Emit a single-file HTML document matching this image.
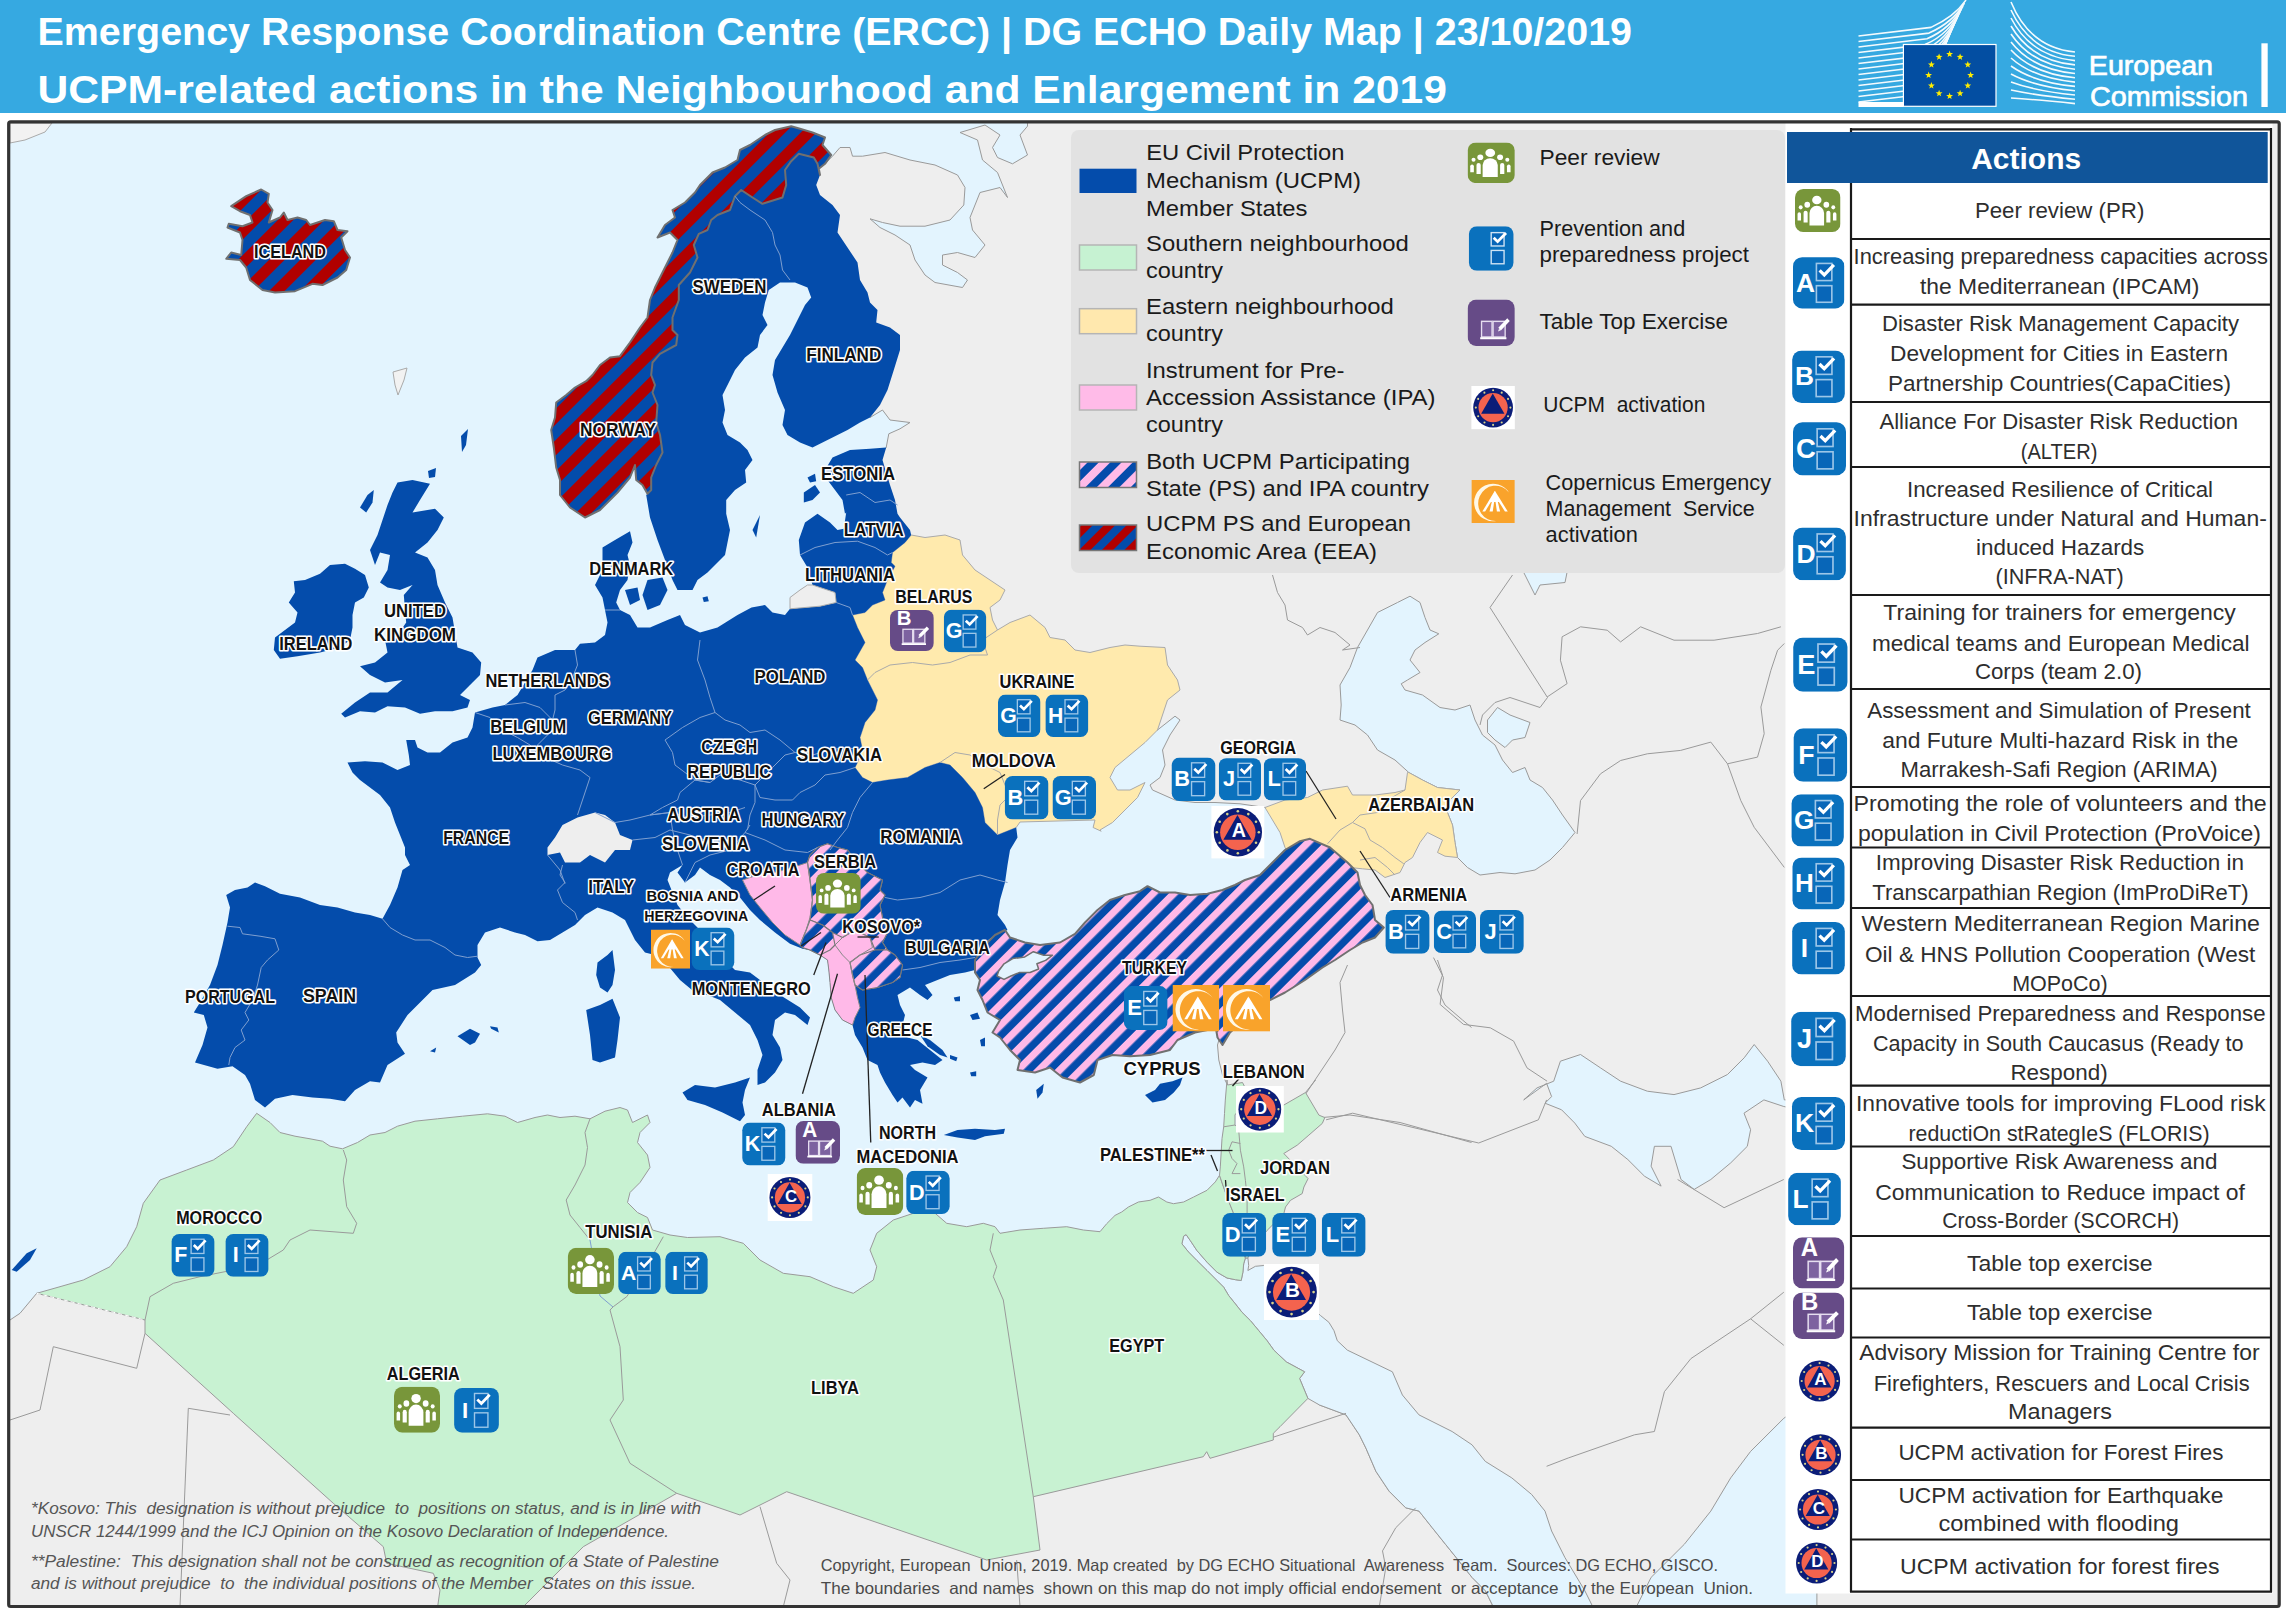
<!DOCTYPE html>
<html><head><meta charset="utf-8"><title>ERCC Daily Map</title>
<style>html,body{margin:0;padding:0;background:#fff}body{width:2286px;height:1616px;overflow:hidden;font-family:"Liberation Sans",sans-serif}svg text{font-family:"Liberation Sans",sans-serif}</style></head><body>
<svg width="2286" height="1616" viewBox="0 0 2286 1616" style="position:absolute;left:0;top:0">
<defs><pattern id="hRB" width="22" height="22" patternUnits="userSpaceOnUse" patternTransform="rotate(-45)"><rect width="22" height="22" fill="#044CAB"/><rect width="22" height="11" fill="#B10000"/></pattern>
<pattern id="hPB" width="14.7" height="14.7" patternUnits="userSpaceOnUse" patternTransform="rotate(-45) translate(0,3)"><rect width="14.7" height="14.7" fill="#044CAB"/><rect width="14.7" height="7.2" fill="#FFB9E8"/></pattern>
<clipPath id="mapclip"><rect x="9" y="122" width="2270" height="1485"/></clipPath>
<symbol id="iPrev" viewBox="0 0 45 45"><rect width="45" height="45" rx="8" fill="#0A71BD"/>
<rect x="20.5" y="5.5" width="13.5" height="15" fill="#0866B8" stroke="#9cc6e8" stroke-width="1.4"/>
<rect x="20.5" y="25" width="13.5" height="14.5" fill="#0866B8" stroke="#9cc6e8" stroke-width="1.4"/>
<path d="M23.3,11.6 L27.4,15.6 L35.8,6.8" fill="none" stroke="#fff" stroke-width="2.8"/></symbol>
<symbol id="iPrev0" viewBox="0 0 45 45"><rect width="45" height="45" rx="8" fill="#0A71BD"/>
<rect x="22.5" y="6.5" width="13" height="13.5" fill="#0866B8" stroke="#cfe3f4" stroke-width="1.4"/>
<rect x="22.5" y="24.5" width="13" height="13.5" fill="#0866B8" stroke="#cfe3f4" stroke-width="1.4"/>
<path d="M25,11.6 L29,15.6 L37.5,6.8" fill="none" stroke="#fff" stroke-width="2.8"/></symbol>
<symbol id="iPeer" viewBox="0 0 44.6 40.3" preserveAspectRatio="none"><rect width="44.6" height="40.3" rx="8" fill="#78963A"/>
<g fill="#fff"><ellipse cx="21.4" cy="10.4" rx="4.6" ry="4"/>
<path d="M14.2,34.2 V22.5 A7.15,6.8 0 0 1 28.5,22.5 V34.2Z"/>
<circle cx="12" cy="14.7" r="2.8"/><path d="M8.4,31.4 V22.3 A2,2 0 0 1 12.4,22.3 V31.4Z"/>
<circle cx="30.7" cy="14.7" r="2.8"/><path d="M30.7,31.4 V22.3 A2,2 0 0 1 34.7,22.3 V31.4Z"/>
<circle cx="5.6" cy="17.2" r="1.9"/><path d="M2.5,29.6 V23.5 A1.7,1.7 0 0 1 5.9,23.5 V29.6Z"/>
<circle cx="37.5" cy="17.2" r="1.9"/><path d="M37.2,29.6 V23.5 A1.7,1.7 0 0 1 40.6,23.5 V29.6Z"/></g></symbol>
<symbol id="iTTX" viewBox="0 0 45 41.5" preserveAspectRatio="none"><rect width="45" height="41.5" rx="8" fill="#664B87"/>
<rect x="13.3" y="19.5" width="10" height="14" fill="#7d62a0" stroke="#e6def0" stroke-width="1.3"/>
<rect x="24.3" y="19.5" width="11.5" height="14" fill="#7d62a0" stroke="#e6def0" stroke-width="1.3"/>
<path d="M12,34.6 H37" stroke="#fff" stroke-width="1.8"/>
<path d="M30.5,26.5 L39,18" stroke="#fff" stroke-width="3.4" stroke-linecap="butt"/><path d="M29,28.5 L31.5,27.5 L30,26Z" fill="#fff"/></symbol>
<symbol id="iUCPM" viewBox="0 0 50 50"><circle cx="25" cy="25" r="24.5" fill="#0B1D78"/><circle cx="25.0" cy="3.7" r="1.3" fill="#d9d38a"/><circle cx="35.6" cy="6.6" r="1.3" fill="#d9d38a"/><circle cx="43.4" cy="14.3" r="1.3" fill="#d9d38a"/><circle cx="46.3" cy="25.0" r="1.3" fill="#d9d38a"/><circle cx="43.4" cy="35.6" r="1.3" fill="#d9d38a"/><circle cx="35.6" cy="43.4" r="1.3" fill="#d9d38a"/><circle cx="25.0" cy="46.3" r="1.3" fill="#d9d38a"/><circle cx="14.4" cy="43.4" r="1.3" fill="#d9d38a"/><circle cx="6.6" cy="35.7" r="1.3" fill="#d9d38a"/><circle cx="3.7" cy="25.0" r="1.3" fill="#d9d38a"/><circle cx="6.6" cy="14.3" r="1.3" fill="#d9d38a"/><circle cx="14.3" cy="6.6" r="1.3" fill="#d9d38a"/>
<circle cx="25" cy="25" r="18" fill="#F4634E"/><path d="M24.6,7.5 L10.3,32.7 L39,32.7Z" fill="#0B1D78"/></symbol>
<symbol id="iCop" viewBox="0 0 46.8 46.8"><rect width="46.8" height="46.8" fill="#F9A32B"/>
<path d="M40.5,13.5 A20.4,20.4 0 1 0 27,44.6 A18.6,19.2 0 1 1 40.5,13.5Z" fill="#fff8e6"/>
<path d="M25.3,11.6 L11.8,34.3 L14.8,34.3 L25.3,17Z" fill="#fff"/><path d="M25.3,11.6 L39.2,34.3 L36.2,34.3 L25.3,17Z" fill="#fff"/>
<path d="M25.3,12 L20.5,24 L30,24Z" fill="#fff"/>
<path d="M22.5,22 L19.5,34.3 L23,34.3 L24.8,22Z" fill="#fff"/><path d="M28,22 L31,34.3 L27.5,34.3 L25.8,22Z" fill="#fff"/></symbol><pattern id="hPB2" width="16" height="16" patternUnits="userSpaceOnUse" patternTransform="rotate(-45)"><rect width="16" height="16" fill="#044CAB"/><rect width="16" height="8" fill="#FFBBE8"/></pattern><pattern id="hRB2" width="16" height="16" patternUnits="userSpaceOnUse" patternTransform="rotate(-45)"><rect width="16" height="16" fill="#044CAB"/><rect width="16" height="8" fill="#B10000"/></pattern></defs>
<rect x="0" y="0" width="2286" height="113" fill="#36A9E1"/>
<g font-family="Liberation Sans, sans-serif" font-weight="bold" fill="#fff">
<text x="37.5" y="45.0" font-size="39.5" textLength="1594.5" lengthAdjust="spacingAndGlyphs" >Emergency Response Coordination Centre (ERCC) | DG ECHO Daily Map | 23/10/2019</text>
<text x="37.5" y="102.5" font-size="39.5" textLength="1409.5" lengthAdjust="spacingAndGlyphs" >UCPM-related actions in the Neighbourhood and Enlargement in 2019</text>
</g>
<g stroke="#fff" stroke-width="1.6" fill="none" opacity="0.95">
<path d="M1858.5,36.0 L1931.0,27.4 Q1955.0,16.2 1966.0,0.0"/>
<path d="M1858.5,41.5 L1929.0,33.1 Q1953.0,22.3 1964.5,3.0"/>
<path d="M1858.5,47.0 L1927.0,38.8 Q1951.0,28.4 1963.0,6.0"/>
<path d="M1858.5,52.5 L1925.0,44.6 Q1949.0,34.5 1961.5,9.0"/>
<path d="M1858.5,58.0 L1923.0,50.3 Q1947.0,40.6 1960.0,12.0"/>
<path d="M1858.5,63.5 L1921.0,56.1 Q1945.0,46.7 1958.5,15.0"/>
<path d="M1858.5,69.0 L1919.0,61.8 Q1943.0,52.8 1957.0,18.0"/>
<path d="M1858.5,74.5 L1917.0,67.5 Q1941.0,58.9 1955.5,21.0"/>
<path d="M1858.5,80.0 L1915.0,73.3 Q1939.0,65.0 1954.0,24.0"/>
<path d="M1858.5,85.5 L1913.0,79.0 Q1937.0,71.1 1952.5,27.0"/>
<path d="M1858.5,91.0 L1911.0,84.8 Q1935.0,77.2 1951.0,30.0"/>
<path d="M1858.5,96.5 L1909.0,90.5 Q1933.0,83.3 1949.5,33.0"/>
<path d="M1858.5,102.0 L1907.0,96.2 Q1931.0,89.4 1948.0,36.0"/>
<path d="M2011,2.0 Q2030.0,48.0 2075,52.0"/>
<path d="M2011,10.0 Q2030.5,52.3 2075,56.3"/>
<path d="M2011,18.0 Q2031.0,56.6 2075,60.6"/>
<path d="M2011,26.0 Q2031.5,60.9 2075,64.9"/>
<path d="M2011,34.0 Q2032.0,65.2 2075,69.2"/>
<path d="M2011,42.0 Q2032.5,69.5 2075,73.5"/>
<path d="M2011,50.0 Q2033.0,73.8 2075,77.8"/>
<path d="M2011,58.0 Q2033.5,78.1 2075,82.1"/>
<path d="M2011,66.0 Q2034.0,82.4 2075,86.4"/>
<path d="M2011,74.0 Q2034.5,86.7 2075,90.7"/>
<path d="M2011,82.0 Q2035.0,91.0 2075,95.0"/>
<path d="M2011,90.0 Q2035.5,95.3 2075,99.3"/>
<path d="M2011,98.0 Q2036.0,99.6 2075,103.6"/>
</g>
<rect x="1858.5" y="102" width="45" height="5" fill="#fff"/>
<rect x="1903.4" y="44.5" width="92.6" height="61.8" fill="#034EA2" stroke="#fff" stroke-width="1.2"/>
<polygon points="1949.6,50.6 1950.5,53.0 1953.0,53.1 1951.0,54.7 1951.7,57.1 1949.6,55.7 1947.5,57.1 1948.2,54.7 1946.2,53.1 1948.7,53.0" fill="#FFED00"/>
<polygon points="1960.1,53.4 1961.0,55.8 1963.5,55.9 1961.5,57.5 1962.2,59.9 1960.1,58.5 1958.0,59.9 1958.7,57.5 1956.7,55.9 1959.2,55.8" fill="#FFED00"/>
<polygon points="1967.8,61.1 1968.7,63.5 1971.2,63.6 1969.2,65.2 1969.9,67.6 1967.8,66.2 1965.7,67.6 1966.4,65.2 1964.4,63.6 1966.9,63.5" fill="#FFED00"/>
<polygon points="1970.6,71.6 1971.5,74.0 1974.0,74.1 1972.0,75.7 1972.7,78.1 1970.6,76.7 1968.5,78.1 1969.2,75.7 1967.2,74.1 1969.7,74.0" fill="#FFED00"/>
<polygon points="1967.8,82.1 1968.7,84.5 1971.2,84.6 1969.2,86.2 1969.9,88.6 1967.8,87.2 1965.7,88.6 1966.4,86.2 1964.4,84.6 1966.9,84.5" fill="#FFED00"/>
<polygon points="1960.1,89.8 1961.0,92.2 1963.5,92.3 1961.5,93.9 1962.2,96.3 1960.1,94.9 1958.0,96.3 1958.7,93.9 1956.7,92.3 1959.2,92.2" fill="#FFED00"/>
<polygon points="1949.6,92.6 1950.5,95.0 1953.0,95.1 1951.0,96.7 1951.7,99.1 1949.6,97.7 1947.5,99.1 1948.2,96.7 1946.2,95.1 1948.7,95.0" fill="#FFED00"/>
<polygon points="1939.1,89.8 1940.0,92.2 1942.5,92.3 1940.5,93.9 1941.2,96.3 1939.1,94.9 1937.0,96.3 1937.7,93.9 1935.7,92.3 1938.2,92.2" fill="#FFED00"/>
<polygon points="1931.4,82.1 1932.3,84.5 1934.8,84.6 1932.8,86.2 1933.5,88.6 1931.4,87.2 1929.3,88.6 1930.0,86.2 1928.0,84.6 1930.5,84.5" fill="#FFED00"/>
<polygon points="1928.6,71.6 1929.5,74.0 1932.0,74.1 1930.0,75.7 1930.7,78.1 1928.6,76.7 1926.5,78.1 1927.2,75.7 1925.2,74.1 1927.7,74.0" fill="#FFED00"/>
<polygon points="1931.4,61.1 1932.3,63.5 1934.8,63.6 1932.8,65.2 1933.5,67.6 1931.4,66.2 1929.3,67.6 1930.0,65.2 1928.0,63.6 1930.5,63.5" fill="#FFED00"/>
<polygon points="1939.1,53.4 1940.0,55.8 1942.5,55.9 1940.5,57.5 1941.2,59.9 1939.1,58.5 1937.0,59.9 1937.7,57.5 1935.7,55.9 1938.2,55.8" fill="#FFED00"/>
<g font-family="Liberation Sans, sans-serif" fill="#fff" stroke="#fff" stroke-width="0.7">
<text x="2088.8" y="74.5" font-size="27" textLength="124.2" lengthAdjust="spacingAndGlyphs" >European</text>
<text x="2090.0" y="106.3" font-size="27" textLength="158.0" lengthAdjust="spacingAndGlyphs" >Commission</text>
</g>
<rect x="2261.4" y="43.3" width="6.3" height="63.7" fill="#fff"/>
<rect x="0" y="113" width="2286" height="1503" fill="#fff"/>
<rect x="9" y="122" width="2270" height="1485" fill="#E3F4FE"/>
<g clip-path="url(#mapclip)">
<path d="M825.0,163.8 L832.5,156.2 L840.0,147.5 L850.0,147.5 L852.5,156.2 L862.5,156.2 L885.0,152.5 L910.0,160.0 L935.0,165.0 L957.5,175.0 L965.0,187.5 L963.8,205.0 L950.0,220.0 L925.0,226.2 L900.0,226.2 L882.5,222.5 L870.0,218.8 L880.0,227.5 L895.0,235.0 L910.0,245.0 L915.0,260.0 L925.0,275.0 L935.0,282.5 L962.5,287.5 L967.5,280.0 L957.5,272.5 L942.5,265.0 L942.5,255.0 L957.5,252.5 L975.0,257.5 L985.0,245.0 L972.5,230.0 L970.0,217.5 L980.0,192.5 L1000.0,187.5 L1007.5,197.5 L997.5,172.5 L982.5,160.0 L977.5,140.0 L960.0,132.5 L985.0,125.0 L1000.0,135.0 L992.5,147.5 L997.5,157.5 L1012.5,163.8 L1027.5,155.0 L1020.0,135.0 L1027.5,126.2 L1027.5,120.0 L2285.0,118.0 L2285.0,1620.0 L1247.0,1620.0 L1247.0,1240.0 L1240.0,1100.0 L1227.5,1085.0 L1222.5,1075.0 L1218.8,1060.0 L1217.5,1045.0 L1230.0,1000.0 L1300.0,900.0 L1330.0,840.0 L1265.0,807.5 L1240.0,803.8 L1215.0,802.5 L1195.0,802.5 L1175.0,800.0 L1152.5,790.0 L1150.0,785.0 L1160.0,777.5 L1165.0,765.0 L1162.5,750.0 L1170.0,735.0 L1180.0,720.0 L1175.0,716.2 L1157.5,730.0 L1100.0,700.0 L950.0,600.0 L880.0,520.0 L875.0,460.0 L886.2,447.5 L888.8,433.8 L900.0,428.8 L910.0,422.5 L890.0,420.0 L882.5,410.0 L870.0,417.5 L850.0,350.0 L800.0,250.0 L810.0,170.0Z" fill="#EEEEEE" stroke="#9a9a9a" stroke-width="1" stroke-linejoin="round" />
<path d="M36.7,1293.3 L20.0,1313.3 L10.0,1320.0 L0.0,1327.0 L0.0,1620.0 L1500.0,1620.0 L1495.2,1610.6 L1485.3,1590.7 L1472.0,1577.4 L1458.8,1560.8 L1445.5,1544.3 L1432.2,1527.7 L1419.0,1511.1 L1405.7,1507.8 L1389.1,1491.2 L1375.9,1471.3 L1365.9,1448.1 L1359.3,1434.8 L1346.0,1414.9 L1319.5,1405.0 L1290.0,1380.0 L900.0,1350.0 L400.0,1450.0 L160.0,1300.0Z" fill="#EEEEEE" stroke="#9a9a9a" stroke-width="1" stroke-linejoin="round" />
<path d="M1410.0,596.2 L1420.0,602.5 L1425.0,617.5 L1430.0,630.0 L1438.8,633.8 L1425.0,642.5 L1415.0,650.0 L1410.0,660.0 L1420.0,672.5 L1407.5,680.0 L1401.2,683.8 L1405.0,690.0 L1422.5,695.0 L1440.0,707.5 L1455.0,710.0 L1470.0,705.0 L1475.0,720.0 L1482.5,735.0 L1495.0,745.0 L1502.5,760.0 L1512.5,772.5 L1525.0,767.5 L1530.0,780.0 L1542.5,787.5 L1552.5,800.0 L1562.5,815.0 L1575.0,832.5 L1562.5,847.5 L1550.0,860.0 L1535.0,870.0 L1515.0,873.8 L1500.0,872.5 L1480.0,875.0 L1467.5,867.5 L1457.5,857.5 L1455.0,842.5 L1452.5,825.0 L1447.5,812.5 L1450.0,800.0 L1460.0,790.0 L1437.5,787.5 L1422.5,780.0 L1408.8,772.5 L1395.0,760.0 L1377.5,750.0 L1367.5,735.0 L1355.0,725.0 L1340.0,720.0 L1341.2,705.0 L1340.0,685.0 L1350.0,667.5 L1357.5,647.5 L1367.5,630.0 L1377.5,612.5 L1397.5,602.5Z" fill="#E3F4FE" stroke="#9a9a9a" stroke-width="1" stroke-linejoin="round" />
<path d="M1487.5,720.0 L1497.5,707.5 L1510.0,715.0 L1530.0,722.5 L1525.0,737.5 L1512.5,740.0 L1505.0,747.5 L1495.0,740.0 L1487.5,732.5Z" fill="#E3F4FE" stroke="#9a9a9a" stroke-width="1" stroke-linejoin="round" />
<path d="M1522.5,570.0 L1530.0,585.0 L1535.0,595.0 L1540.0,585.0 L1565.0,582.5 L1567.5,570.0Z" fill="#E3F4FE" stroke="#9a9a9a" stroke-width="1" stroke-linejoin="round" />
<path d="M1247.9,1258.0 L1248.7,1265.5 L1247.9,1270.5 L1255.4,1266.3 L1263.8,1265.5 L1283.8,1280.5 L1300.5,1297.2 L1320.6,1315.6 L1328.9,1322.3 L1334.0,1330.7 L1337.3,1340.7 L1347.3,1350.1 L1392.4,1371.8 L1402.4,1395.0 L1419.0,1414.9 L1452.1,1431.5 L1472.0,1444.8 L1485.3,1461.4 L1511.8,1477.9 L1531.7,1494.5 L1545.0,1511.1 L1551.6,1531.0 L1564.9,1557.5 L1584.8,1590.7 L1594.7,1610.6 L1495.2,1610.6 L1485.3,1590.7 L1472.0,1577.4 L1458.8,1560.8 L1445.5,1544.3 L1432.2,1527.7 L1419.0,1511.1 L1405.7,1507.8 L1389.1,1491.2 L1375.9,1471.3 L1365.9,1448.1 L1359.3,1434.8 L1346.0,1414.9 L1319.5,1405.0 L1307.9,1398.4 L1299.6,1378.5 L1304.6,1371.8 L1286.3,1361.9 L1273.8,1350.1 L1267.1,1340.7 L1258.8,1330.7 L1250.4,1320.6 L1242.0,1312.3 L1235.4,1303.9 L1228.7,1295.6 L1223.7,1287.2 L1217.0,1280.5 L1207.0,1270.5 L1196.9,1260.5 L1188.6,1252.1 L1181.9,1243.8 L1183.6,1236.2 L1186.1,1234.6 L1190.2,1240.4 L1196.9,1250.5 L1207.0,1262.2 L1217.0,1272.2 L1227.0,1278.0 L1235.4,1279.7 L1241.2,1280.5 L1241.2,1280.5 L1242.9,1272.2 L1243.7,1263.8 L1245.4,1258.0Z" fill="#E3F4FE" stroke="#9a9a9a" stroke-width="1" stroke-linejoin="round" />
<path d="M1546.6,1083.3 L1551.6,1096.6 L1545.0,1103.2 L1561.6,1109.8 L1574.8,1123.1 L1584.8,1136.4 L1611.3,1146.3 L1627.9,1159.6 L1644.5,1176.2 L1661.1,1186.1 L1651.1,1166.2 L1654.4,1146.3 L1671.0,1146.3 L1681.0,1179.5 L1694.2,1189.4 L1710.8,1179.5 L1730.7,1162.9 L1747.3,1146.3 L1750.6,1129.7 L1744.0,1113.2 L1763.9,1099.9 L1783.8,1106.5 L1816.9,1113.2 L1816.9,1080.0 L1814.3,1099.9 L1784.3,1099.9 L1780.9,1081.2 L1767.6,1061.2 L1754.2,1044.5 L1744.2,1057.8 L1727.5,1074.5 L1700.7,1087.9 L1674.0,1094.6 L1647.3,1091.2 L1620.6,1081.2 L1600.5,1067.9 L1580.5,1054.5 L1560.4,1061.2 L1553.7,1081.2 L1537.0,1087.9 L1523.7,1099.9Z" fill="#E3F4FE" stroke="#9a9a9a" stroke-width="1" stroke-linejoin="round" />
<path d="M1634.5,1610.6 L1651.1,1577.4 L1684.3,1544.3 L1710.8,1511.1 L1730.7,1477.9 L1750.6,1451.4 L1783.8,1418.3 L1816.9,1395.0 L1816.9,1610.6Z" fill="#E3F4FE" stroke="#9a9a9a" stroke-width="1" stroke-linejoin="round" />
<path d="M1272.5,575.0 L1277.5,592.5 L1285.0,605.0 L1287.5,620.0 L1302.5,627.5 L1307.5,635.0 L1320.0,627.5 L1335.0,632.5 L1350.0,645.0 L1342.5,650.0 L1360.0,647.5" fill="none" stroke="#9a9a9a" stroke-width="1"/>
<path d="M1512.5,575.0 L1490.0,607.5 L1547.5,697.5 L1540.0,707.5 L1510.0,697.5 L1495.0,702.5 L1482.5,715.0 L1480.0,725.0" fill="none" stroke="#9a9a9a" stroke-width="1"/>
<path d="M1347.5,965.0 L1340.0,982.5 L1342.5,1010.0 L1345.0,1032.5 L1335.0,1050.0 L1305.0,1095.0" fill="none" stroke="#9a9a9a" stroke-width="1"/>
<path d="M1322.5,1117.5 L1350.0,1115.0 L1400.0,1122.5 L1471.5,1142.5" fill="none" stroke="#9a9a9a" stroke-width="1"/>
<path d="M1437.5,960.0 L1442.5,975.0 L1437.5,990.0 L1445.0,1005.0 L1462.5,1020.0 L1471.5,1027.5" fill="none" stroke="#9a9a9a" stroke-width="1"/>
<path d="M10.0,1420.0 L40.0,1410.0 L53.3,1346.7 L136.7,1368.3 L145.0,1333.3" fill="none" stroke="#9a9a9a" stroke-width="1"/>
<path d="M180.0,1606.7 L188.3,1408.3 L230.0,1415.0" fill="none" stroke="#9a9a9a" stroke-width="1"/>
<path d="M760.0,1506.7 L776.7,1563.3 L790.0,1580.0 L783.3,1606.7" fill="none" stroke="#9a9a9a" stroke-width="1"/>
<path d="M1016.7,1560.0 L1020.0,1606.7" fill="none" stroke="#9a9a9a" stroke-width="1"/>
<path d="M1326.1,1119.8 L1352.6,1113.2 L1478.7,1143.0 L1538.4,1119.8 L1546.6,1099.9" fill="none" stroke="#9a9a9a" stroke-width="1"/>
<path d="M1546.6,1466.3 L1568.2,1458.0 L1634.5,1434.8 L1654.4,1431.5 L1664.4,1391.7 L1690.9,1358.6 L1750.6,1318.8 L1783.8,1292.2" fill="none" stroke="#9a9a9a" stroke-width="1"/>
<path d="M1677.6,1179.5 L1724.1,1207.7 L1783.8,1179.5" fill="none" stroke="#9a9a9a" stroke-width="1"/>
<path d="M1750.6,1318.8 L1783.8,1345.3" fill="none" stroke="#9a9a9a" stroke-width="1"/>
<path d="M1220.0,1454.7 L1346.0,1413.3" fill="none" stroke="#9a9a9a" stroke-width="1"/>
<path d="M1415.7,1507.8 L1395.8,1527.7 L1382.5,1550.9 L1385.8,1567.5 L1379.2,1607.3" fill="none" stroke="#9a9a9a" stroke-width="1"/>
<path d="M1433.5,957.6 L1443.5,977.6 L1440.1,1004.4 L1463.5,1024.4 L1490.3,1027.8 L1513.6,1041.1 L1527.0,1067.9 L1547.1,1081.2" fill="none" stroke="#9a9a9a" stroke-width="1"/>
<path d="M1577.1,834.0 L1580.5,800.6 L1600.5,773.8 L1620.6,760.5 L1647.3,753.8 L1680.7,750.4 L1710.8,742.1 L1727.5,763.8 L1757.5,757.1 L1764.2,733.7 L1760.9,707.0 L1770.9,670.3 L1777.6,650.2 L1784.3,643.5" fill="none" stroke="#9a9a9a" stroke-width="1"/>
<path d="M1727.5,763.8 L1740.8,800.6 L1754.2,827.3 L1784.3,867.4" fill="none" stroke="#9a9a9a" stroke-width="1"/>
<path d="M1547.1,697.0 L1567.1,683.6 L1560.4,660.2 L1562.1,636.8 L1580.5,626.8 L1607.2,630.2 L1620.6,641.9 L1640.6,626.8 L1674.0,640.2 L1714.1,640.2 L1757.5,633.5 L1780.9,626.8" fill="none" stroke="#9a9a9a" stroke-width="1"/>
<path d="M1305.5,1092.5 L1315.6,1080.0" fill="none" stroke="#9a9a9a" stroke-width="1"/>
<path d="M911.2,535.0 L925.0,537.5 L945.0,535.0 L960.0,540.0 L962.5,555.0 L975.0,570.0 L990.0,580.0 L1005.0,590.0 L1000.0,600.0 L990.0,607.5 L992.5,620.0 L997.5,630.0 L1010.0,622.5 L1030.0,615.0 L1045.0,627.5 L1050.0,637.5 L1065.0,640.0 L1075.0,650.0 L1090.0,652.5 L1110.0,647.5 L1125.0,645.0 L1140.0,646.2 L1165.0,647.5 L1167.5,665.0 L1177.5,680.0 L1180.0,690.0 L1167.5,700.0 L1162.5,715.0 L1157.5,730.0 L1145.0,742.5 L1130.0,755.0 L1115.0,767.5 L1110.0,777.5 L1117.5,790.0 L1130.0,790.0 L1145.0,782.5 L1137.5,797.5 L1125.0,810.0 L1112.5,822.5 L1100.0,830.0 L1101.2,831.2 L1093.1,827.5 L1095.0,820.0 L1020.0,822.0 L1016.2,827.5 L1010.0,830.0 L997.5,835.0 L992.5,830.0 L985.0,822.5 L982.5,807.5 L975.0,792.5 L962.5,777.5 L950.0,765.0 L940.0,762.5 L925.0,767.5 L907.5,777.5 L887.5,780.0 L872.5,782.5 L862.5,777.5 L855.0,767.5 L860.0,757.5 L862.5,750.0 L860.0,737.5 L865.0,722.5 L875.0,710.0 L877.5,700.0 L867.5,680.0 L862.5,667.5 L855.0,660.0 L865.0,642.5 L857.5,627.5 L852.5,615.0 L865.0,612.5 L872.5,605.0 L885.0,600.0 L882.5,592.5 L887.5,580.0 L895.0,566.2 L891.2,562.5 L892.5,552.5 L905.0,542.5 L911.2,535.0Z" fill="#FFEAAD" stroke="#aaa" stroke-width="1" stroke-linejoin="round" />
<path d="M1265.0,807.5 L1285.0,800.0 L1307.5,797.5 L1322.5,790.0 L1347.5,786.2 L1352.5,795.0 L1375.0,795.0 L1395.0,792.5 L1405.0,790.0 L1407.5,772.5 L1408.8,772.5 L1422.5,780.0 L1437.5,787.5 L1460.0,790.0 L1450.0,800.0 L1447.5,812.5 L1452.5,825.0 L1455.0,842.5 L1457.5,857.5 L1445.0,856.2 L1437.5,852.5 L1442.5,840.0 L1427.5,832.5 L1420.0,842.5 L1412.5,857.5 L1405.0,862.5 L1400.0,872.5 L1385.0,877.5 L1375.0,870.0 L1362.5,868.8 L1350.0,867.5 L1332.5,855.0 L1312.5,850.0 L1286.2,850.0 L1285.0,847.5 L1280.0,832.5 L1272.5,820.0Z" fill="#FFEAAD" stroke="#aaa" stroke-width="1" stroke-linejoin="round" />
<path d="M36.7,1293.3 L60.0,1286.7 L83.3,1280.0 L110.0,1266.7 L126.7,1246.7 L136.7,1226.7 L143.3,1203.3 L160.0,1180.0 L186.7,1170.0 L213.3,1160.0 L233.3,1146.7 L246.7,1126.7 L256.7,1113.3 L270.0,1122.5 L280.0,1132.5 L295.0,1136.2 L310.0,1138.8 L322.5,1141.2 L330.0,1146.2 L342.5,1148.8 L357.5,1142.5 L370.0,1135.0 L385.0,1132.5 L397.5,1126.2 L415.0,1121.2 L437.5,1118.8 L462.5,1116.2 L487.5,1113.8 L505.0,1116.2 L517.5,1122.5 L535.0,1117.5 L547.5,1115.0 L560.0,1117.5 L575.0,1116.2 L590.0,1118.8 L605.0,1111.2 L620.0,1107.5 L627.5,1110.0 L632.5,1122.5 L647.5,1115.0 L650.0,1122.5 L640.0,1132.5 L637.5,1142.5 L647.5,1155.0 L650.0,1167.5 L640.0,1182.5 L630.0,1192.5 L627.5,1202.5 L637.5,1212.5 L647.5,1217.5 L652.5,1230.0 L670.0,1235.0 L687.5,1237.5 L720.0,1236.7 L743.3,1243.3 L760.0,1260.0 L783.3,1273.3 L810.0,1276.7 L833.3,1286.7 L853.3,1293.3 L873.3,1280.0 L876.7,1266.7 L870.0,1250.0 L876.7,1233.3 L893.3,1220.0 L913.3,1213.3 L933.3,1211.7 L946.7,1223.3 L966.7,1226.7 L983.3,1223.3 L995.0,1226.7 L1000.0,1233.3 L1020.0,1230.0 L1043.3,1228.3 L1066.7,1226.7 L1083.3,1230.0 L1100.0,1231.7 L1106.7,1223.7 L1115.0,1215.4 L1121.7,1212.0 L1128.4,1207.0 L1138.4,1202.0 L1150.1,1200.3 L1158.5,1197.0 L1166.8,1202.0 L1173.5,1203.7 L1183.6,1202.0 L1193.6,1197.0 L1207.0,1190.3 L1215.3,1181.9 L1219.5,1175.3 L1219.5,1175.3 L1227.0,1197.0 L1233.7,1213.7 L1240.4,1238.8 L1245.4,1258.0 L1243.7,1263.8 L1242.9,1272.2 L1241.2,1280.5 L1235.4,1279.7 L1227.0,1278.0 L1217.0,1272.2 L1207.0,1262.2 L1196.9,1250.5 L1190.2,1240.4 L1186.1,1234.6 L1183.6,1236.2 L1181.9,1243.8 L1188.6,1252.1 L1196.9,1260.5 L1207.0,1270.5 L1217.0,1280.5 L1223.7,1287.2 L1228.7,1295.6 L1235.4,1303.9 L1242.0,1312.3 L1250.4,1320.6 L1258.8,1330.7 L1267.1,1340.7 L1273.8,1350.1 L1286.3,1361.9 L1304.6,1371.8 L1299.6,1378.5 L1307.9,1398.4 L1280.0,1426.7 L1273.3,1433.3 L1273.3,1440.0 L1210.0,1458.3 L1206.7,1451.7 L1203.3,1456.7 L1033.3,1496.7 L1040.0,1550.0 L986.7,1560.0 L786.7,1491.7 L740.0,1515.0 L676.7,1493.3 L583.3,1546.7 L516.7,1613.3 L436.7,1613.3 L440.0,1590.0 L433.3,1573.3 L386.7,1563.3 L383.3,1546.7 L333.3,1503.3 L233.3,1413.3 L145.0,1333.3 L145.0,1320.0Z" fill="#C8F2D2" stroke="#9a9a9a" stroke-width="1" stroke-linejoin="round" />
<path d="M1227.0,1080.0 L1225.3,1100.1 L1224.5,1113.4 L1223.7,1126.8 L1222.0,1138.5 L1221.2,1151.9 L1220.3,1166.9 L1219.5,1175.3 L1227.0,1197.0 L1233.7,1213.7 L1240.4,1238.8 L1245.4,1258.0 L1247.9,1258.0 L1250.4,1250.5 L1267.1,1230.4 L1283.8,1213.7 L1285.5,1207.0 L1290.5,1200.3 L1302.2,1193.6 L1303.9,1187.0 L1308.1,1178.6 L1283.8,1153.5 L1297.2,1145.2 L1308.9,1135.1 L1322.3,1123.4 L1324.8,1117.6 L1318.9,1115.1 L1305.5,1092.5 L1240.4,1130.1 L1235.0,1125.0 L1235.0,1114.9 L1242.5,1105.1 L1247.6,1092.5 L1242.5,1082.5 L1227.5,1085.0Z" fill="#C8F2D2" stroke="#9a9a9a" stroke-width="1" stroke-linejoin="round" />
<path d="M560.0,480.0 L556.2,467.5 L553.8,447.5 L551.2,430.0 L555.0,417.5 L556.2,402.5 L566.2,395.0 L575.0,387.5 L586.2,381.2 L592.5,375.0 L600.0,365.0 L610.0,357.5 L620.0,356.2 L630.0,342.5 L640.0,327.5 L647.5,317.5 L650.0,300.0 L655.0,287.5 L662.5,272.5 L672.5,252.5 L677.5,240.0 L670.0,232.5 L657.5,237.5 L665.0,225.0 L675.0,217.5 L672.5,210.0 L685.0,202.5 L695.0,192.5 L700.0,185.0 L712.5,172.5 L725.0,167.5 L737.5,160.0 L740.0,150.0 L750.0,145.0 L765.0,135.0 L775.0,130.0 L791.2,126.2 L800.0,128.8 L812.5,132.5 L825.0,137.5 L822.5,145.0 L831.2,155.0 L825.0,163.8 L818.8,168.8 L820.0,175.0 L816.2,185.0 L820.0,195.0 L832.5,205.0 L840.0,215.0 L837.5,232.5 L847.5,247.5 L857.5,262.5 L860.0,280.0 L867.5,292.5 L870.0,302.5 L877.5,310.0 L876.2,322.5 L890.0,327.5 L900.0,335.0 L900.0,350.0 L893.8,370.0 L887.5,390.0 L880.0,405.0 L870.0,417.5 L860.0,422.5 L847.5,430.0 L832.5,437.5 L812.5,447.5 L800.0,442.5 L787.5,435.0 L782.5,425.0 L785.0,410.0 L777.5,392.5 L772.5,375.0 L775.0,360.0 L782.5,347.5 L790.0,335.0 L797.5,320.0 L805.0,305.0 L811.2,297.5 L807.5,287.5 L795.0,282.5 L780.0,282.5 L768.8,290.0 L765.0,302.5 L762.5,315.0 L767.5,325.0 L760.0,335.0 L757.5,347.5 L745.0,357.5 L735.0,370.0 L728.8,382.5 L722.5,395.0 L725.0,410.0 L722.5,422.5 L727.5,435.0 L740.0,442.5 L747.5,450.0 L752.5,460.0 L745.0,470.0 L746.2,482.5 L735.0,490.0 L726.2,500.0 L726.2,513.8 L730.0,530.0 L725.0,555.0 L707.5,572.5 L697.5,580.0 L692.5,590.0 L677.5,590.0 L672.5,580.0 L665.0,560.0 L657.5,540.0 L650.0,517.5 L646.2,495.0 L647.5,493.8 L642.5,485.0 L636.2,480.0 L635.0,465.0 L630.0,477.5 L617.5,492.5 L600.0,510.0 L585.0,517.5 L570.0,507.5 L560.0,495.0Z" fill="#044CAB" stroke="none" stroke-width="0" stroke-linejoin="round" />
<path d="M605.0,610.0 L602.5,597.5 L595.0,585.0 L600.0,575.0 L602.5,562.5 L602.5,547.5 L615.0,540.0 L630.0,531.2 L632.5,542.5 L627.5,555.0 L630.0,565.0 L627.5,580.0 L620.0,590.0 L616.2,602.5 L620.0,610.0 L630.0,615.0 L637.5,627.5 L650.0,627.5 L667.5,620.0 L680.0,615.0 L685.0,625.0 L700.0,632.5 L717.5,627.5 L737.5,615.0 L751.5,607.5 L765.0,605.0 L772.5,612.5 L785.0,615.0 L790.0,608.8 L820.0,606.2 L836.2,602.5 L835.0,592.5 L812.5,585.0 L807.5,567.5 L800.0,555.0 L798.8,540.0 L805.0,522.5 L817.5,513.8 L830.0,522.5 L837.5,530.0 L843.8,528.8 L846.2,512.5 L845.0,513.8 L842.5,500.0 L835.0,490.0 L827.5,480.0 L825.0,470.0 L832.5,457.5 L850.0,450.0 L870.0,448.8 L886.2,447.5 L882.5,460.0 L886.2,472.5 L890.0,485.0 L895.0,500.0 L897.5,513.8 L900.0,517.5 L910.0,530.0 L911.2,535.0 L905.0,542.5 L892.5,552.5 L891.2,562.5 L895.0,566.2 L887.5,580.0 L882.5,592.5 L885.0,600.0 L872.5,605.0 L865.0,612.5 L852.5,615.0 L857.5,627.5 L865.0,642.5 L855.0,660.0 L862.5,667.5 L867.5,680.0 L877.5,700.0 L875.0,710.0 L865.0,722.5 L860.0,737.5 L862.5,750.0 L860.0,757.5 L855.0,767.5 L862.5,777.5 L872.5,782.5 L887.5,780.0 L907.5,777.5 L925.0,767.5 L940.0,762.5 L950.0,765.0 L962.5,777.5 L975.0,792.5 L982.5,807.5 L985.0,822.5 L992.5,830.0 L997.5,835.0 L1010.0,830.0 L1016.2,827.5 L1017.5,837.5 L1010.0,850.0 L1007.5,865.0 L1005.0,882.5 L1000.0,900.0 L997.5,915.0 L1005.0,925.0 L1007.5,930.0 L995.0,935.0 L985.0,942.5 L977.5,955.0 L975.0,970.0 L965.0,972.5 L950.0,975.0 L937.5,980.0 L925.0,985.0 L932.5,995.0 L927.5,1000.0 L920.0,995.0 L910.0,987.5 L897.5,995.0 L900.0,1005.0 L905.0,1015.0 L902.5,1025.0 L907.5,1037.5 L917.5,1040.0 L930.0,1050.0 L942.5,1060.0 L935.0,1065.0 L922.5,1062.5 L910.0,1065.0 L915.0,1070.0 L927.5,1077.5 L920.0,1090.0 L922.5,1103.8 L915.0,1100.0 L910.0,1107.5 L902.5,1097.5 L897.5,1102.5 L892.5,1095.0 L885.0,1082.5 L880.0,1072.5 L877.5,1065.0 L867.5,1060.0 L862.5,1047.5 L855.0,1035.0 L852.5,1025.0 L842.5,1020.0 L835.0,1010.0 L831.2,997.5 L830.0,982.5 L828.8,970.0 L827.5,960.0 L820.0,955.0 L810.0,950.0 L802.5,948.8 L790.0,943.8 L775.0,932.5 L760.0,920.0 L750.0,910.0 L740.0,897.5 L730.0,887.5 L720.0,880.0 L710.0,875.0 L700.0,867.5 L695.0,875.0 L685.0,882.5 L677.5,872.5 L682.5,865.0 L670.0,872.5 L667.5,880.0 L672.5,892.5 L677.5,905.0 L687.5,917.5 L700.0,930.0 L715.0,950.0 L735.0,970.0 L750.0,972.5 L760.0,980.0 L780.0,995.0 L800.0,1007.5 L810.0,1017.5 L807.5,1025.0 L795.0,1015.0 L785.0,1012.5 L775.0,1020.0 L772.5,1035.0 L780.0,1047.5 L782.5,1060.0 L775.0,1072.5 L765.0,1082.5 L757.5,1085.0 L757.5,1070.0 L762.5,1055.0 L757.5,1040.0 L750.0,1025.0 L735.0,1012.5 L720.0,1000.0 L707.5,995.0 L695.0,992.5 L680.0,980.0 L667.5,965.0 L655.0,955.0 L645.0,952.5 L635.0,940.0 L625.0,920.0 L612.5,912.5 L597.5,907.5 L585.0,915.0 L575.0,925.0 L562.5,932.5 L550.0,940.0 L537.5,941.2 L525.0,935.0 L515.0,932.5 L500.0,927.5 L485.0,932.5 L477.5,945.0 L477.5,957.5 L481.2,965.0 L475.0,972.5 L455.0,985.0 L432.5,990.0 L422.5,1000.0 L407.5,1015.0 L396.2,1032.5 L397.5,1042.5 L405.0,1053.8 L387.5,1065.0 L380.0,1082.5 L370.0,1081.2 L355.0,1090.0 L345.0,1101.2 L330.0,1098.8 L312.5,1097.5 L292.5,1095.0 L275.0,1098.8 L265.0,1107.5 L255.0,1100.0 L250.0,1083.8 L245.0,1075.0 L232.5,1066.2 L217.5,1068.8 L195.0,1062.5 L202.5,1045.0 L207.5,1027.5 L203.8,1015.0 L193.8,1012.5 L200.0,1002.5 L210.0,985.0 L217.5,965.0 L222.5,945.0 L227.5,922.5 L230.0,907.5 L226.2,895.0 L235.0,890.0 L247.5,887.5 L255.0,882.5 L265.0,886.2 L280.0,893.8 L300.0,897.5 L320.0,905.0 L337.5,907.5 L355.0,912.5 L370.0,915.0 L382.5,918.8 L390.0,905.0 L397.5,887.5 L402.5,870.0 L410.0,865.0 L405.0,855.0 L405.0,847.5 L400.0,835.0 L395.0,822.5 L390.0,807.5 L380.0,795.0 L370.0,787.5 L360.0,780.0 L352.5,772.5 L347.5,762.5 L365.0,761.2 L382.5,762.5 L397.5,770.0 L410.0,765.0 L408.8,755.0 L406.2,740.0 L415.0,740.0 L417.5,747.5 L427.5,752.5 L440.0,752.5 L452.5,742.5 L467.5,737.5 L472.5,727.5 L475.0,712.5 L492.5,707.5 L505.0,705.0 L517.5,695.0 L525.0,682.5 L532.5,670.0 L537.5,657.5 L555.0,650.0 L575.0,650.0 L580.0,643.8 L595.0,642.5 L605.0,635.0 L607.5,622.5Z" fill="#044CAB" stroke="none" stroke-width="0" stroke-linejoin="round" />
<path d="M293.8,581.2 L305.0,580.0 L320.0,573.8 L330.0,565.0 L345.0,563.8 L355.0,568.8 L365.0,575.0 L368.8,587.5 L363.8,597.5 L355.0,602.5 L352.5,615.0 L352.5,627.5 L350.0,640.0 L340.0,647.5 L320.0,652.5 L297.5,656.2 L280.0,658.8 L273.8,650.0 L275.0,637.5 L285.0,630.0 L295.0,622.5 L297.5,612.5 L288.8,602.5 L295.0,592.5Z" fill="#044CAB" stroke="none" stroke-width="0" stroke-linejoin="round" />
<path d="M397.5,482.5 L412.5,480.0 L430.0,483.8 L420.0,500.0 L412.5,512.5 L435.0,508.8 L443.8,517.5 L437.5,530.0 L427.5,542.5 L415.0,552.5 L427.5,557.5 L435.0,570.0 L437.5,585.0 L445.0,602.5 L452.5,617.5 L455.0,632.5 L457.5,647.5 L472.5,652.5 L481.2,662.5 L480.0,675.0 L470.0,685.0 L460.0,695.0 L470.0,700.0 L467.5,707.5 L452.5,711.2 L435.0,711.2 L420.0,713.8 L405.0,707.5 L387.5,706.2 L375.0,712.5 L360.0,711.2 L345.0,717.5 L341.2,713.8 L355.0,702.5 L370.0,692.5 L387.5,692.5 L402.5,680.0 L385.0,682.5 L370.0,675.0 L360.0,666.2 L375.0,662.5 L387.5,652.5 L385.0,640.0 L397.5,635.0 L406.2,622.5 L405.0,610.0 L403.8,595.0 L412.5,585.0 L400.0,590.0 L387.5,587.5 L380.0,582.5 L387.5,570.0 L390.0,555.0 L380.0,552.5 L375.0,565.0 L370.0,550.0 L377.5,535.0 L382.5,520.0 L387.5,505.0 L392.5,492.5Z" fill="#044CAB" stroke="none" stroke-width="0" stroke-linejoin="round" />
<path d="M360.0,507.5 L367.5,495.0 L373.8,490.0 L372.5,502.5 L366.2,512.5Z" fill="#044CAB" stroke="none" stroke-width="0" stroke-linejoin="round" />
<path d="M625.0,590.0 L637.5,587.5 L640.0,600.0 L630.0,605.0Z" fill="#044CAB" stroke="none" stroke-width="0" stroke-linejoin="round" />
<path d="M647.5,580.0 L662.5,577.5 L667.5,590.0 L660.0,605.0 L647.5,610.0 L642.5,595.0Z" fill="#044CAB" stroke="none" stroke-width="0" stroke-linejoin="round" />
<path d="M597.5,962.5 L607.5,955.0 L612.5,950.0 L615.0,970.0 L612.5,985.0 L607.5,992.5 L600.0,987.5 L596.2,975.0Z" fill="#044CAB" stroke="none" stroke-width="0" stroke-linejoin="round" />
<path d="M586.2,1010.0 L600.0,1005.0 L612.5,998.8 L620.0,1017.5 L617.5,1040.0 L615.0,1057.5 L600.0,1062.5 L592.5,1060.0 L590.0,1035.0Z" fill="#044CAB" stroke="none" stroke-width="0" stroke-linejoin="round" />
<path d="M457.5,1036.2 L470.0,1028.8 L480.0,1033.8 L475.0,1042.5 L470.0,1045.0Z" fill="#044CAB" stroke="none" stroke-width="0" stroke-linejoin="round" />
<path d="M490.0,1026.2 L497.5,1027.5 L498.8,1032.5 L491.2,1028.8Z" fill="#044CAB" stroke="none" stroke-width="0" stroke-linejoin="round" />
<path d="M430.0,1051.2 L436.2,1047.5 L435.0,1052.5Z" fill="#044CAB" stroke="none" stroke-width="0" stroke-linejoin="round" />
<path d="M752.5,530.0 L760.0,515.0 L756.2,537.5Z" fill="#044CAB" stroke="none" stroke-width="0" stroke-linejoin="round" />
<path d="M702.5,597.5 L707.5,596.2 L708.8,601.2 L703.8,602.0Z" fill="#044CAB" stroke="none" stroke-width="0" stroke-linejoin="round" />
<path d="M807.5,477.5 L815.0,473.8 L816.2,481.2 L810.0,482.5Z" fill="#044CAB" stroke="none" stroke-width="0" stroke-linejoin="round" />
<path d="M803.8,492.5 L815.0,485.0 L820.0,492.5 L812.5,500.0 L803.8,502.5Z" fill="#044CAB" stroke="none" stroke-width="0" stroke-linejoin="round" />
<path d="M1145.0,1095.0 L1155.0,1090.0 L1160.0,1083.8 L1172.5,1081.2 L1182.5,1077.5 L1180.0,1085.0 L1173.8,1092.5 L1165.0,1100.0 L1152.5,1102.5Z" fill="#044CAB" stroke="none" stroke-width="0" stroke-linejoin="round" />
<path d="M943.8,1135.0 L957.5,1130.0 L975.0,1128.8 L995.0,1130.0 L1005.0,1128.8 L1003.8,1133.8 L985.0,1136.2 L975.0,1140.0 L957.5,1137.5Z" fill="#044CAB" stroke="none" stroke-width="0" stroke-linejoin="round" />
<path d="M1036.2,1090.0 L1043.8,1083.8 L1042.5,1092.5 L1037.5,1098.8Z" fill="#044CAB" stroke="none" stroke-width="0" stroke-linejoin="round" />
<path d="M682.5,1092.5 L695.0,1085.0 L715.0,1087.5 L735.0,1082.5 L750.0,1077.5 L745.0,1090.0 L742.5,1102.5 L745.0,1115.0 L740.0,1121.2 L722.5,1112.5 L705.0,1105.0 L687.5,1100.0Z" fill="#044CAB" stroke="none" stroke-width="0" stroke-linejoin="round" />
<path d="M970.0,1015.0 L977.5,1012.5 L980.0,1018.8 L972.5,1020.0Z" fill="#044CAB" stroke="none" stroke-width="0" stroke-linejoin="round" />
<path d="M980.0,1040.0 L985.0,1037.5 L985.0,1046.2 L981.2,1046.2Z" fill="#044CAB" stroke="none" stroke-width="0" stroke-linejoin="round" />
<path d="M950.0,1055.0 L957.5,1057.5 L956.2,1061.2 L950.0,1058.8Z" fill="#044CAB" stroke="none" stroke-width="0" stroke-linejoin="round" />
<path d="M970.0,1072.5 L976.2,1071.2 L976.2,1076.2 L971.2,1076.2Z" fill="#044CAB" stroke="none" stroke-width="0" stroke-linejoin="round" />
<path d="M953.8,997.5 L960.0,996.2 L960.0,1001.2 L955.0,1001.2Z" fill="#044CAB" stroke="none" stroke-width="0" stroke-linejoin="round" />
<path d="M920.0,1035.0 L930.0,1040.0 L942.5,1050.0 L947.5,1057.5 L940.0,1055.0 L927.5,1046.2Z" fill="#044CAB" stroke="none" stroke-width="0" stroke-linejoin="round" />
<path d="M11.7,1270.0 L26.7,1253.3 L36.7,1248.3 L30.0,1260.0 L16.7,1271.7Z" fill="#044CAB" stroke="none" stroke-width="0" stroke-linejoin="round" />
<path d="M461.0,436.0 L468.0,429.0 L466.0,445.0 L462.0,452.0Z" fill="#044CAB" stroke="none" stroke-width="0" stroke-linejoin="round" />
<path d="M428.0,471.0 L436.0,468.0 L435.0,477.0 L429.0,478.0Z" fill="#044CAB" stroke="none" stroke-width="0" stroke-linejoin="round" />
<path d="M790.0,608.8 L790.0,597.5 L800.0,590.0 L807.5,585.0 L812.5,585.0 L835.0,592.5 L836.2,602.5 L820.0,606.2Z" fill="#EEEEEE" stroke="#aaa" stroke-width="1" stroke-linejoin="round" />
<path d="M10.0,123.0 L52.0,123.0 L45.0,132.0 L25.0,140.0 L10.0,143.0Z" fill="#f2f2f2" stroke="#aaa" stroke-width="1" stroke-linejoin="round" />
<path d="M393.0,372.0 L407.0,368.0 L404.0,380.0 L398.0,395.0 L395.0,385.0Z" fill="#f2f2f2" stroke="#aaa" stroke-width="1" stroke-linejoin="round" />
<path d="M547.5,847.5 L555.0,837.5 L562.5,825.0 L577.5,817.5 L595.0,812.5 L605.0,815.0 L615.0,822.5 L620.0,835.0 L632.5,840.0 L630.0,850.0 L615.0,850.0 L605.0,862.5 L590.0,855.0 L580.0,862.5 L565.0,862.5 L560.0,852.5 L547.5,855.0Z" fill="#EEEEEE" stroke="none" stroke-width="0" stroke-linejoin="round" />
<path d="M742.5,880.0 L757.5,875.0 L775.0,872.5 L792.5,867.5 L807.5,862.5 L810.0,855.0 L817.5,847.5 L827.5,843.8 L837.5,847.5 L847.5,850.0 L857.5,862.5 L867.5,872.5 L882.5,880.0 L880.0,890.0 L885.0,895.0 L880.0,905.0 L882.5,917.5 L887.5,932.5 L882.5,942.5 L887.5,950.0 L895.0,955.0 L902.5,965.0 L900.0,977.5 L892.5,982.5 L877.5,987.5 L862.5,990.0 L855.0,985.0 L857.5,997.5 L860.0,1007.5 L855.0,1017.5 L852.5,1025.0 L842.5,1020.0 L835.0,1010.0 L831.2,997.5 L830.0,982.5 L828.8,970.0 L827.5,960.0 L820.0,955.0 L810.0,950.0 L802.5,947.5 L800.0,945.0 L785.0,935.0 L772.5,922.5 L760.0,907.5 L750.0,895.0Z" fill="#FFB9E8" stroke="#888" stroke-width="1" stroke-linejoin="round" />
<path d="M807.5,862.5 L810.0,855.0 L817.5,847.5 L827.5,843.8 L837.5,847.5 L847.5,850.0 L857.5,862.5 L867.5,872.5 L882.5,880.0 L880.0,890.0 L885.0,895.0 L880.0,905.0 L882.5,917.5 L887.5,932.5 L882.5,942.5 L887.5,950.0 L875.0,950.0 L870.0,937.5 L855.0,930.0 L842.5,937.5 L832.5,932.5 L822.5,925.0 L810.0,920.0 L812.5,900.0 L810.0,880.0Z" fill="url(#hPB)" stroke="#777" stroke-width="1.2" stroke-linejoin="round" />
<path d="M806.2,930.0 L810.0,920.0 L822.5,925.0 L832.5,932.5 L835.0,945.0 L830.0,950.0 L820.0,955.0 L810.0,950.0 L802.5,947.5 L800.0,945.0Z" fill="url(#hPB)" stroke="#777" stroke-width="1.2" stroke-linejoin="round" />
<path d="M850.0,962.5 L860.0,955.0 L875.0,950.0 L887.5,950.0 L895.0,955.0 L902.5,965.0 L900.0,977.5 L892.5,982.5 L877.5,987.5 L862.5,990.0 L855.0,985.0 L852.5,975.0Z" fill="url(#hPB)" stroke="#777" stroke-width="1.2" stroke-linejoin="round" />
<path d="M1005.0,930.0 L1010.0,937.5 L1025.0,942.5 L1040.0,945.0 L1060.0,942.5 L1075.0,933.8 L1085.0,922.5 L1097.5,910.0 L1110.0,900.0 L1125.0,895.0 L1140.0,891.2 L1147.5,886.2 L1160.0,892.5 L1175.0,892.5 L1190.0,895.0 L1207.5,893.8 L1222.5,890.0 L1235.0,885.0 L1245.0,880.0 L1260.0,875.0 L1272.5,862.5 L1285.0,850.0 L1300.0,841.2 L1310.0,838.8 L1330.0,847.5 L1347.5,862.5 L1357.5,872.5 L1360.0,885.0 L1365.0,895.0 L1372.5,905.0 L1375.0,920.0 L1383.8,927.5 L1375.0,937.5 L1362.5,942.5 L1350.0,950.0 L1335.0,960.0 L1322.5,967.5 L1305.0,980.0 L1285.0,992.5 L1270.0,1000.0 L1250.0,1015.0 L1230.0,1032.5 L1222.5,1045.0 L1217.5,1037.5 L1216.2,1030.0 L1207.5,1030.0 L1195.0,1032.5 L1177.5,1040.0 L1170.0,1050.0 L1150.0,1055.0 L1130.0,1056.2 L1112.5,1055.0 L1097.5,1060.0 L1093.8,1075.0 L1080.0,1082.5 L1062.5,1077.5 L1050.0,1067.5 L1035.0,1072.5 L1017.5,1070.0 L1020.0,1060.0 L1010.0,1050.0 L1000.0,1037.5 L992.5,1032.5 L1000.0,1020.0 L987.5,1012.5 L982.5,1000.0 L977.5,990.0 L980.0,980.0 L975.0,972.5 L975.0,960.0 L985.0,945.0 L995.0,935.0Z" fill="url(#hPB)" stroke="#707070" stroke-width="2" stroke-linejoin="round" />
<path d="M998.8,970.8 L1004.0,963.8 L1012.7,958.6 L1024.8,956.9 L1033.4,951.7 L1043.8,955.2 L1052.5,955.2 L1045.6,960.4 L1036.9,963.8 L1038.6,969.0 L1030.0,972.5 L1019.6,972.5 L1010.9,976.0 L1004.0,979.4 L997.0,976.0Z" fill="#E3F4FE" stroke="#707070" stroke-width="1.5" stroke-linejoin="round" />
<path d="M560.0,480.0 L556.2,467.5 L553.8,447.5 L551.2,430.0 L555.0,417.5 L556.2,402.5 L566.2,395.0 L575.0,387.5 L586.2,381.2 L592.5,375.0 L600.0,365.0 L610.0,357.5 L620.0,356.2 L630.0,342.5 L640.0,327.5 L647.5,317.5 L650.0,300.0 L655.0,287.5 L662.5,272.5 L672.5,252.5 L677.5,240.0 L670.0,232.5 L657.5,237.5 L665.0,225.0 L675.0,217.5 L672.5,210.0 L685.0,202.5 L695.0,192.5 L700.0,185.0 L712.5,172.5 L725.0,167.5 L737.5,160.0 L740.0,150.0 L750.0,145.0 L765.0,135.0 L775.0,130.0 L791.2,126.2 L800.0,128.8 L812.5,132.5 L825.0,137.5 L822.5,145.0 L831.2,155.0 L825.0,163.8 L818.8,168.8 L820.0,175.0 L817.5,163.8 L813.8,157.5 L798.8,153.8 L791.2,161.2 L785.0,170.0 L786.2,185.0 L782.5,197.5 L762.5,203.8 L752.5,197.5 L741.2,190.0 L735.0,196.2 L730.0,210.0 L717.5,215.0 L711.2,220.0 L707.5,230.0 L698.8,233.8 L693.8,245.0 L697.5,257.5 L690.0,272.5 L678.8,285.0 L678.8,300.0 L672.5,317.5 L672.5,330.0 L677.5,335.0 L676.2,345.0 L660.0,353.8 L652.5,362.5 L651.2,375.0 L655.0,385.0 L652.5,392.5 L657.5,405.0 L656.2,422.5 L660.0,435.0 L662.5,452.5 L656.2,465.0 L651.2,477.5 L651.2,490.0 L647.5,493.8 L642.5,485.0 L636.2,480.0 L635.0,465.0 L630.0,477.5 L617.5,492.5 L600.0,510.0 L585.0,517.5 L570.0,507.5 L560.0,495.0Z" fill="url(#hRB)" stroke="#707070" stroke-width="2" stroke-linejoin="round" />
<path d="M231.2,206.2 L246.2,196.2 L261.2,189.5 L268.8,193.8 L267.5,202.5 L272.5,210.0 L268.8,222.5 L280.0,217.5 L283.8,212.5 L287.5,220.0 L297.5,217.5 L306.2,220.0 L310.0,225.0 L325.0,220.0 L333.8,221.2 L337.5,230.0 L347.5,231.2 L341.2,237.5 L345.0,250.0 L350.0,257.5 L346.2,270.0 L337.5,277.5 L322.5,285.0 L312.5,283.8 L295.0,291.2 L275.0,292.5 L262.5,290.0 L250.0,280.0 L246.2,267.5 L240.0,260.0 L226.2,258.8 L231.2,252.5 L241.2,255.0 L242.5,240.0 L240.0,232.5 L227.5,227.5 L228.8,223.8 L242.5,226.2 L252.5,222.5 L250.0,215.0 L240.0,211.2Z" fill="url(#hRB)" stroke="#707070" stroke-width="2" stroke-linejoin="round" />
<path d="M590.0,1118.8 L585.0,1132.5 L587.5,1147.5 L585.0,1165.0 L575.0,1185.0 L566.2,1200.0 L570.0,1215.0 L580.0,1227.5 L590.0,1240.0" fill="none" stroke="#9a9a9a" stroke-width="1"/>
<path d="M382.5,918.8 L390.0,927.5 L402.5,935.0 L415.0,940.0 L430.0,940.0 L445.0,947.5 L455.0,955.0 L467.5,957.5 L477.5,956.2" fill="none" stroke="#7f9fd0" stroke-width="1"/>
<path d="M227.5,926.2 L240.0,927.5 L242.5,933.8 L260.0,936.2 L275.0,938.8 L278.8,950.0 L267.5,960.0 L261.2,967.5 L257.5,985.0 L252.5,1000.0 L245.0,1012.5 L248.8,1020.0 L241.2,1030.0 L245.0,1040.0 L235.0,1047.5 L230.0,1057.5 L228.8,1065.0" fill="none" stroke="#7f9fd0" stroke-width="1"/>
<path d="M562.5,865.0 L560.0,875.0 L565.0,882.5 L557.5,890.0 L562.5,902.5 L575.0,912.5 L577.5,920.0" fill="none" stroke="#7f9fd0" stroke-width="1"/>
<path d="M997.5,630.0 L990.0,635.0 L982.5,640.0 L987.5,655.0 L970.0,655.0 L950.0,662.5 L932.5,665.0 L912.5,662.5 L890.0,665.0 L875.0,672.5 L867.5,680.0" fill="none" stroke="#aaa" stroke-width="1"/>
<path d="M940.0,762.5 L955.0,752.5 L970.0,755.0 L985.0,765.0 L1000.0,772.5 L1005.0,785.0 L1010.0,795.0 L1000.0,805.0 L997.5,820.0 L997.5,835.0" fill="none" stroke="#aaa" stroke-width="1"/>
<path d="M700.0,640.0 L697.5,660.0 L705.0,680.0 L710.0,697.5 L715.0,712.5" fill="none" stroke="#7f9fd0" stroke-width="1"/>
<path d="M715.0,712.5 L700.0,717.5 L682.5,727.5 L665.0,740.0 L672.5,752.5 L675.0,765.0 L695.0,780.0 L710.0,782.5 L720.0,775.0 L740.0,780.0 L755.0,785.0 L772.5,767.5 L785.0,755.0 L795.0,752.5 L780.0,740.0 L765.0,730.0 L750.0,732.5 L740.0,725.0 L725.0,720.0 L715.0,712.5" fill="none" stroke="#7f9fd0" stroke-width="1"/>
<path d="M795.0,752.5 L812.5,755.0 L830.0,750.0 L845.0,747.5 L862.5,750.0" fill="none" stroke="#7f9fd0" stroke-width="1"/>
<path d="M755.0,785.0 L760.0,797.5 L775.0,800.0 L792.5,800.0 L800.0,792.5 L815.0,785.0 L825.0,775.0 L840.0,772.5 L855.0,767.5" fill="none" stroke="#7f9fd0" stroke-width="1"/>
<path d="M710.0,782.5 L695.0,780.0 L680.0,792.5 L677.5,800.0 L662.5,807.5 L650.0,815.0" fill="none" stroke="#7f9fd0" stroke-width="1"/>
<path d="M755.0,785.0 L755.0,802.5 L750.0,815.0 L747.5,830.0" fill="none" stroke="#7f9fd0" stroke-width="1"/>
<path d="M872.5,782.5 L860.0,797.5 L852.5,812.5 L847.5,827.5 L837.5,840.0 L830.0,850.0" fill="none" stroke="#7f9fd0" stroke-width="1"/>
<path d="M800.0,555.0 L815.0,547.5 L835.0,542.5 L857.5,541.2 L875.0,547.5 L887.5,555.0 L892.5,552.5" fill="none" stroke="#7f9fd0" stroke-width="1"/>
<path d="M846.2,495.0 L860.0,492.5 L875.0,502.5 L890.0,500.0 L897.5,505.0" fill="none" stroke="#7f9fd0" stroke-width="1"/>
<path d="M836.2,602.5 L850.0,607.5 L852.5,615.0" fill="none" stroke="#7f9fd0" stroke-width="1"/>
<path d="M1327.5,843.8 L1340.0,830.0 L1352.5,822.5" fill="none" stroke="#aaa" stroke-width="1"/>
<path d="M1352.5,822.5 L1360.0,815.0 L1377.5,812.5 L1387.5,800.0 L1405.0,790.0" fill="none" stroke="#aaa" stroke-width="1"/>
<path d="M1352.5,822.5 L1365.0,828.8 L1370.0,840.0 L1382.5,847.5 L1395.0,857.5 L1403.8,863.8" fill="none" stroke="#aaa" stroke-width="1"/>
<path d="M1360.0,860.0 L1375.0,857.5 L1387.5,867.5 L1395.0,875.0" fill="none" stroke="#aaa" stroke-width="1"/>
<path d="M842.5,937.5 L855.0,930.0 L870.0,937.5 L872.5,947.5 L860.0,955.0 L850.0,962.5 L842.5,955.0 L835.0,945.0 L842.5,937.5" fill="none" stroke="#888" stroke-width="1"/>
<path d="M850.0,962.5 L852.5,975.0 L855.0,985.0" fill="none" stroke="#888" stroke-width="1"/>
<path d="M807.5,862.5 L810.0,880.0 L812.5,900.0 L810.0,917.5 L806.2,930.0 L800.0,945.0" fill="none" stroke="#888" stroke-width="1"/>
<path d="M885.0,897.5 L897.5,900.0 L920.0,897.5 L940.0,892.5 L960.0,880.0 L980.0,875.0 L997.5,880.0 L1007.5,882.5" fill="none" stroke="#7f9fd0" stroke-width="1"/>
<path d="M902.5,970.0 L920.0,967.5 L940.0,962.5 L960.0,960.0 L975.0,957.5" fill="none" stroke="#7f9fd0" stroke-width="1"/>
<path d="M36.7,1293.3 L145.0,1320.0" fill="none" stroke="#fff" stroke-width="1" stroke-dasharray="4,3"/>
<path d="M145.0,1320.0 L150.0,1296.7 L173.3,1283.3 L200.0,1276.7 L233.3,1270.0 L266.7,1260.0 L283.3,1250.0 L290.0,1240.0 L310.0,1230.0 L353.3,1233.3 L356.7,1223.3 L346.7,1206.7 L343.3,1180.0 L346.7,1160.0 L343.3,1150.0" fill="none" stroke="#9a9a9a" stroke-width="1"/>
<path d="M676.7,1493.3 L630.0,1463.3 L610.0,1420.0 L623.3,1400.0 L620.0,1346.7 L610.0,1310.0 L613.3,1306.7" fill="none" stroke="#9a9a9a" stroke-width="1"/>
<path d="M613.3,1306.7 L626.7,1296.7 L633.3,1286.7 L650.0,1260.0 L663.3,1236.7" fill="none" stroke="#9a9a9a" stroke-width="1"/>
<path d="M993.3,1233.3 L990.0,1250.0 L996.7,1266.7 L993.3,1276.7 L1003.3,1300.0 L1033.3,1496.7" fill="none" stroke="#9a9a9a" stroke-width="1"/>
<path d="M1238.7,1130.1 L1240.4,1150.2 L1243.7,1166.9 L1245.4,1180.3 L1247.1,1197.0 L1247.1,1213.7 L1246.2,1238.8 L1245.4,1257.1" fill="none" stroke="#9a9a9a" stroke-width="1"/>
<path d="M1240.4,1143.5 L1232.0,1141.8 L1228.7,1150.2 L1232.0,1158.5 L1237.0,1163.6 L1232.0,1173.6 L1240.4,1173.6" fill="none" stroke="#9a9a9a" stroke-width="1"/>
<path d="M1223.7,1126.8 L1235.0,1125.0" fill="none" stroke="#9a9a9a" stroke-width="1"/>
<path d="M590.0,1240.0 L600.0,1296.0 L613.0,1307.0" fill="none" stroke="#7f9fd0" stroke-width="1"/>
<path d="M575.0,650.0 L577.5,665.0 L572.5,677.5 L565.0,690.0 L555.0,695.0 L555.0,710.0 L552.5,720.0" fill="none" stroke="#7f9fd0" stroke-width="1"/>
<path d="M505.0,705.0 L525.0,702.5 L540.0,707.5 L552.5,720.0" fill="none" stroke="#7f9fd0" stroke-width="1"/>
<path d="M475.0,712.5 L490.0,717.5 L502.5,730.0 L517.5,737.5 L530.0,745.0 L540.0,755.0" fill="none" stroke="#7f9fd0" stroke-width="1"/>
<path d="M552.5,720.0 L550.0,732.5 L537.5,745.0 L540.0,755.0" fill="none" stroke="#7f9fd0" stroke-width="1"/>
<path d="M540.0,755.0 L562.5,765.0 L580.0,770.0 L590.0,777.5 L582.5,800.0 L577.5,815.0" fill="none" stroke="#7f9fd0" stroke-width="1"/>
<path d="M595.0,812.5 L615.0,822.5 L630.0,820.0 L650.0,815.0 L670.0,812.5 L680.0,807.5" fill="none" stroke="#7f9fd0" stroke-width="1"/>
<path d="M605.0,610.0 L620.0,610.0" fill="none" stroke="#7f9fd0" stroke-width="1"/>
<path d="M632.5,840.0 L655.0,837.5 L670.0,830.0 L690.0,835.0 L705.0,840.0" fill="none" stroke="#7f9fd0" stroke-width="1"/>
<path d="M547.5,855.0 L560.0,870.0 L565.0,883.8" fill="none" stroke="#7f9fd0" stroke-width="1"/>
<path d="M735.0,196.2 L740.0,202.5 L750.0,210.0 L765.0,220.0 L772.5,232.5 L775.0,245.0 L780.0,255.0 L782.5,270.0 L790.0,280.0" fill="none" stroke="#7f9fd0" stroke-width="1"/>
<path d="M650.0,815.0 L670.0,812.5 L690.0,817.5 L710.0,815.0 L730.0,812.5 L745.0,807.5" fill="none" stroke="#7f9fd0" stroke-width="1"/>
<path d="M685.0,882.5 L695.0,862.5 L710.0,855.0 L730.0,850.0 L745.0,832.5 L750.0,825.0" fill="none" stroke="#7f9fd0" stroke-width="1"/>
<path d="M745.0,832.5 L765.0,840.0 L785.0,850.0 L807.5,852.5 L817.5,847.5" fill="none" stroke="#7f9fd0" stroke-width="1"/>
<path d="M682.5,865.0 L677.5,850.0 L672.5,830.0 L670.0,812.5" fill="none" stroke="#7f9fd0" stroke-width="1"/>
</g>
<g stroke="#222" stroke-width="1.3"><line x1="983.75" y1="788.75" x2="1005" y2="774.5"/><line x1="1306" y1="771" x2="1336" y2="819"/><line x1="1360" y1="851" x2="1390" y2="897.5"/><line x1="753.75" y1="900" x2="775" y2="886"/><line x1="857.5" y1="937" x2="878.75" y2="937"/><line x1="801" y1="946" x2="821" y2="932.5"/><line x1="813.75" y1="975" x2="826" y2="942.5"/><line x1="802.5" y1="1093.75" x2="837.5" y2="973.75"/><line x1="870.75" y1="1142.5" x2="865" y2="975"/><line x1="1232.5" y1="1086" x2="1240" y2="1077.5"/><line x1="1206" y1="1150.5" x2="1232.5" y2="1150.5"/><line x1="1211" y1="1155" x2="1217.5" y2="1171"/><line x1="1225.5" y1="1180" x2="1226" y2="1187.5"/></g>
<svg x="890.0" y="610.0" width="43.8" height="41.0" viewBox="0 0 45 41.5" preserveAspectRatio="none" overflow="visible"><use href="#iTTX" width="45" height="41.5"/><text x="14.5" y="15.5" font-size="21" font-weight="bold" fill="#fff" text-anchor="middle" font-family="Liberation Sans, sans-serif">B</text></svg>
<use href="#iPrev" x="943.8" y="609.5" width="42.5" height="43.0"/><text x="954.2" y="638.1" font-size="21.5" font-weight="bold" fill="#fff" text-anchor="middle" font-family="Liberation Sans, sans-serif">G</text>
<use href="#iPrev" x="998.0" y="694.5" width="42.5" height="42.5"/><text x="1008.4" y="722.8" font-size="21.2" font-weight="bold" fill="#fff" text-anchor="middle" font-family="Liberation Sans, sans-serif">G</text>
<use href="#iPrev" x="1045.0" y="694.5" width="43.8" height="42.5"/><text x="1055.7" y="722.8" font-size="21.2" font-weight="bold" fill="#fff" text-anchor="middle" font-family="Liberation Sans, sans-serif">H</text>
<use href="#iPrev" x="1004.5" y="776.0" width="44.2" height="43.5"/><text x="1015.3" y="804.9" font-size="21.8" font-weight="bold" fill="#fff" text-anchor="middle" font-family="Liberation Sans, sans-serif">B</text>
<use href="#iPrev" x="1052.5" y="776.0" width="43.5" height="43.5"/><text x="1063.2" y="804.9" font-size="21.8" font-weight="bold" fill="#fff" text-anchor="middle" font-family="Liberation Sans, sans-serif">G</text>
<use href="#iPrev" x="1171.0" y="757.5" width="45.0" height="43.5"/><text x="1182.0" y="786.4" font-size="21.8" font-weight="bold" fill="#fff" text-anchor="middle" font-family="Liberation Sans, sans-serif">B</text>
<use href="#iPrev" x="1218.8" y="757.5" width="42.2" height="43.5"/><text x="1229.1" y="786.4" font-size="21.8" font-weight="bold" fill="#fff" text-anchor="middle" font-family="Liberation Sans, sans-serif">J</text>
<use href="#iPrev" x="1263.8" y="757.5" width="42.2" height="43.5"/><text x="1274.1" y="786.4" font-size="21.8" font-weight="bold" fill="#fff" text-anchor="middle" font-family="Liberation Sans, sans-serif">L</text>
<rect x="1211.4" y="806.0" width="52.9" height="52.4" fill="#fff"/><use href="#iUCPM" x="1213.2" y="807.6" width="49.3" height="49.3"/><text x="1238.8" y="837.1" font-size="19.7" font-weight="bold" fill="#fff" text-anchor="middle" font-family="Liberation Sans, sans-serif">A</text>
<use href="#iPrev" x="1385.0" y="910.0" width="45.0" height="43.8"/><text x="1396.0" y="939.1" font-size="21.9" font-weight="bold" fill="#fff" text-anchor="middle" font-family="Liberation Sans, sans-serif">B</text>
<use href="#iPrev" x="1433.8" y="910.0" width="42.2" height="43.8"/><text x="1444.1" y="939.1" font-size="21.9" font-weight="bold" fill="#fff" text-anchor="middle" font-family="Liberation Sans, sans-serif">C</text>
<use href="#iPrev" x="1480.0" y="910.0" width="43.8" height="43.8"/><text x="1490.7" y="939.1" font-size="21.9" font-weight="bold" fill="#fff" text-anchor="middle" font-family="Liberation Sans, sans-serif">J</text>
<use href="#iPrev" x="1123.8" y="986.0" width="43.8" height="44.0"/><text x="1134.5" y="1015.3" font-size="22.0" font-weight="bold" fill="#fff" text-anchor="middle" font-family="Liberation Sans, sans-serif">E</text>
<svg x="1172.5" y="985.0" width="46.8" height="46.6" viewBox="0 0 46.8 46.8" preserveAspectRatio="none"><use href="#iCop" width="46.8" height="46.8"/></svg>
<svg x="1223.0" y="985.0" width="47.0" height="46.6" viewBox="0 0 46.8 46.8" preserveAspectRatio="none"><use href="#iCop" width="46.8" height="46.8"/></svg>
<rect x="1236.0" y="1086.0" width="47.8" height="46.5" fill="#fff"/><use href="#iUCPM" x="1238.0" y="1087.4" width="43.7" height="43.7"/><text x="1260.9" y="1113.6" font-size="17.5" font-weight="bold" fill="#fff" text-anchor="middle" font-family="Liberation Sans, sans-serif">D</text>
<use href="#iPrev" x="1221.7" y="1213.0" width="45.0" height="43.7"/><text x="1232.7" y="1242.1" font-size="21.9" font-weight="bold" fill="#fff" text-anchor="middle" font-family="Liberation Sans, sans-serif">D</text>
<use href="#iPrev" x="1271.7" y="1213.0" width="45.0" height="43.7"/><text x="1282.7" y="1242.1" font-size="21.9" font-weight="bold" fill="#fff" text-anchor="middle" font-family="Liberation Sans, sans-serif">E</text>
<use href="#iPrev" x="1321.7" y="1213.0" width="44.0" height="43.7"/><text x="1332.5" y="1242.1" font-size="21.9" font-weight="bold" fill="#fff" text-anchor="middle" font-family="Liberation Sans, sans-serif">L</text>
<rect x="1264.0" y="1264.0" width="55.0" height="56.0" fill="#fff"/><use href="#iUCPM" x="1265.7" y="1266.2" width="51.7" height="51.7"/><text x="1292.5" y="1297.2" font-size="20.7" font-weight="bold" fill="#fff" text-anchor="middle" font-family="Liberation Sans, sans-serif">B</text>
<svg x="651.0" y="929.5" width="39.0" height="39.2" viewBox="0 0 46.8 46.8" preserveAspectRatio="none"><use href="#iCop" width="46.8" height="46.8"/></svg>
<use href="#iPrev" x="691.0" y="927.5" width="44.0" height="42.5"/><text x="701.8" y="955.8" font-size="21.2" font-weight="bold" fill="#fff" text-anchor="middle" font-family="Liberation Sans, sans-serif">K</text>
<use href="#iPeer" x="816.0" y="873.0" width="44.8" height="40.8"/>
<use href="#iPrev" x="741.8" y="1122.5" width="44.0" height="43.0"/><text x="752.5" y="1151.1" font-size="21.5" font-weight="bold" fill="#fff" text-anchor="middle" font-family="Liberation Sans, sans-serif">K</text>
<svg x="795.5" y="1121.0" width="44.5" height="42.8" viewBox="0 0 45 41.5" preserveAspectRatio="none" overflow="visible"><use href="#iTTX" width="45" height="41.5"/><text x="14.5" y="15.5" font-size="21" font-weight="bold" fill="#fff" text-anchor="middle" font-family="Liberation Sans, sans-serif">A</text></svg>
<rect x="767.7" y="1174.0" width="44.6" height="47.0" fill="#fff"/><use href="#iUCPM" x="769.0" y="1176.5" width="41.9" height="41.9"/><text x="791.0" y="1201.7" font-size="16.8" font-weight="bold" fill="#fff" text-anchor="middle" font-family="Liberation Sans, sans-serif">C</text>
<use href="#iPeer" x="856.7" y="1168.0" width="46.6" height="47.0"/>
<use href="#iPrev" x="906.0" y="1170.7" width="44.0" height="43.3"/><text x="916.8" y="1199.5" font-size="21.6" font-weight="bold" fill="#fff" text-anchor="middle" font-family="Liberation Sans, sans-serif">D</text>
<use href="#iPrev" x="169.0" y="1234.0" width="48.0" height="42.7"/><text x="180.8" y="1262.4" font-size="21.4" font-weight="bold" fill="#fff" text-anchor="middle" font-family="Liberation Sans, sans-serif">F</text>
<use href="#iPrev" x="225.0" y="1234.0" width="44.0" height="42.7"/><text x="235.8" y="1262.4" font-size="21.4" font-weight="bold" fill="#fff" text-anchor="middle" font-family="Liberation Sans, sans-serif">I</text>
<use href="#iPeer" x="567.7" y="1247.7" width="46.3" height="46.3"/>
<use href="#iPrev" x="618.0" y="1251.7" width="43.0" height="42.3"/><text x="628.5" y="1279.8" font-size="21.1" font-weight="bold" fill="#fff" text-anchor="middle" font-family="Liberation Sans, sans-serif">A</text>
<use href="#iPrev" x="664.0" y="1251.7" width="45.0" height="42.3"/><text x="675.0" y="1279.8" font-size="21.1" font-weight="bold" fill="#fff" text-anchor="middle" font-family="Liberation Sans, sans-serif">I</text>
<use href="#iPeer" x="394.0" y="1386.7" width="46.0" height="46.0"/>
<use href="#iPrev" x="454.0" y="1388.0" width="45.0" height="44.7"/><text x="465.0" y="1417.7" font-size="22.4" font-weight="bold" fill="#fff" text-anchor="middle" font-family="Liberation Sans, sans-serif">I</text>
<g font-family="Liberation Sans, sans-serif" font-weight="bold" text-anchor="middle" fill="#111" stroke="#fff" stroke-width="3.2" stroke-linejoin="round" paint-order="stroke">
<text x="290.0" y="258.1"  font-size="17.8" textLength="72" lengthAdjust="spacingAndGlyphs">ICELAND</text>
<text x="729.5" y="293.4"  font-size="17.8" textLength="74" lengthAdjust="spacingAndGlyphs">SWEDEN</text>
<text x="843.8" y="361.4"  font-size="17.8" textLength="75" lengthAdjust="spacingAndGlyphs">FINLAND</text>
<text x="618.0" y="435.9"  font-size="17.8" textLength="76" lengthAdjust="spacingAndGlyphs">NORWAY</text>
<text x="858.0" y="480.1"  font-size="17.8" textLength="74" lengthAdjust="spacingAndGlyphs">ESTONIA</text>
<text x="315.8" y="650.1"  font-size="17.8" textLength="73" lengthAdjust="spacingAndGlyphs">IRELAND</text>
<text x="415.0" y="616.9"  font-size="17.8" textLength="62" lengthAdjust="spacingAndGlyphs">UNITED</text>
<text x="415.0" y="640.9"  font-size="17.8" textLength="82" lengthAdjust="spacingAndGlyphs">KINGDOM</text>
<text x="631.2" y="575.1"  font-size="17.8" textLength="84" lengthAdjust="spacingAndGlyphs">DENMARK</text>
<text x="547.5" y="687.1"  font-size="17.8" textLength="124" lengthAdjust="spacingAndGlyphs">NETHERLANDS</text>
<text x="528.2" y="733.4"  font-size="17.8" textLength="76" lengthAdjust="spacingAndGlyphs">BELGIUM</text>
<text x="630.0" y="724.4"  font-size="17.8" textLength="84" lengthAdjust="spacingAndGlyphs">GERMANY</text>
<text x="552.0" y="759.6"  font-size="17.8" textLength="119" lengthAdjust="spacingAndGlyphs">LUXEMBOURG</text>
<text x="476.2" y="844.4"  font-size="17.8" textLength="66" lengthAdjust="spacingAndGlyphs">FRANCE</text>
<text x="873.8" y="536.4"  font-size="17.8" textLength="60" lengthAdjust="spacingAndGlyphs">LATVIA</text>
<text x="850.0" y="580.9"  font-size="17.8" textLength="90" lengthAdjust="spacingAndGlyphs">LITHUANIA</text>
<text x="933.8" y="602.6"  font-size="17.8" textLength="77" lengthAdjust="spacingAndGlyphs">BELARUS</text>
<text x="790.0" y="683.1"  font-size="17.8" textLength="71" lengthAdjust="spacingAndGlyphs">POLAND</text>
<text x="1037.0" y="688.4"  font-size="17.8" textLength="75" lengthAdjust="spacingAndGlyphs">UKRAINE</text>
<text x="729.2" y="753.4"  font-size="17.8" textLength="56" lengthAdjust="spacingAndGlyphs">CZECH</text>
<text x="729.2" y="777.6"  font-size="17.8" textLength="84" lengthAdjust="spacingAndGlyphs">REPUBLIC</text>
<text x="839.5" y="761.4"  font-size="17.8" textLength="85" lengthAdjust="spacingAndGlyphs">SLOVAKIA</text>
<text x="1013.8" y="766.9"  font-size="17.8" textLength="84" lengthAdjust="spacingAndGlyphs">MOLDOVA</text>
<text x="703.8" y="820.6"  font-size="17.8" textLength="73" lengthAdjust="spacingAndGlyphs">AUSTRIA</text>
<text x="803.0" y="825.6"  font-size="17.8" textLength="83" lengthAdjust="spacingAndGlyphs">HUNGARY</text>
<text x="705.5" y="850.1"  font-size="17.8" textLength="87" lengthAdjust="spacingAndGlyphs">SLOVENIA</text>
<text x="920.8" y="843.1"  font-size="17.8" textLength="81" lengthAdjust="spacingAndGlyphs">ROMANIA</text>
<text x="845.0" y="867.6"  font-size="17.8" textLength="62" lengthAdjust="spacingAndGlyphs">SERBIA</text>
<text x="763.0" y="875.6"  font-size="17.8" textLength="73" lengthAdjust="spacingAndGlyphs">CROATIA</text>
<text x="230.0" y="1003.4"  font-size="17.8" textLength="90" lengthAdjust="spacingAndGlyphs">PORTUGAL</text>
<text x="329.5" y="1001.9"  font-size="17.8" textLength="53" lengthAdjust="spacingAndGlyphs">SPAIN</text>
<text x="611.2" y="892.6"  font-size="17.8" textLength="46" lengthAdjust="spacingAndGlyphs">ITALY</text>
<text x="219.2" y="1223.9"  font-size="17.8" textLength="86" lengthAdjust="spacingAndGlyphs">MOROCCO</text>
<text x="618.8" y="1238.4"  font-size="17.8" textLength="67" lengthAdjust="spacingAndGlyphs">TUNISIA</text>
<text x="881.2" y="932.6"  font-size="17.8" textLength="78" lengthAdjust="spacingAndGlyphs">KOSOVO*</text>
<text x="947.5" y="954.4"  font-size="17.8" textLength="85" lengthAdjust="spacingAndGlyphs">BULGARIA</text>
<text x="751.2" y="995.1"  font-size="17.8" textLength="119" lengthAdjust="spacingAndGlyphs">MONTENEGRO</text>
<text x="900.0" y="1035.7"  font-size="17.8" textLength="65" lengthAdjust="spacingAndGlyphs">GREECE</text>
<text x="798.8" y="1116.4"  font-size="17.8" textLength="74" lengthAdjust="spacingAndGlyphs">ALBANIA</text>
<text x="907.5" y="1138.9"  font-size="17.8" textLength="57" lengthAdjust="spacingAndGlyphs">NORTH</text>
<text x="907.5" y="1162.7"  font-size="17.8" textLength="102" lengthAdjust="spacingAndGlyphs">MACEDONIA</text>
<text x="1154.5" y="973.9"  font-size="17.8" textLength="65" lengthAdjust="spacingAndGlyphs">TURKEY</text>
<text x="1162.0" y="1075.2"  font-size="17.8" textLength="77" lengthAdjust="spacingAndGlyphs">CYPRUS</text>
<text x="1263.8" y="1077.7"  font-size="17.8" textLength="82" lengthAdjust="spacingAndGlyphs">LEBANON</text>
<text x="1152.5" y="1160.9"  font-size="17.8" textLength="105" lengthAdjust="spacingAndGlyphs">PALESTINE**</text>
<text x="1295.0" y="1173.9"  font-size="17.8" textLength="70" lengthAdjust="spacingAndGlyphs">JORDAN</text>
<text x="1255.0" y="1201.4"  font-size="17.8" textLength="59" lengthAdjust="spacingAndGlyphs">ISRAEL</text>
<text x="1428.8" y="901.4"  font-size="17.8" textLength="77" lengthAdjust="spacingAndGlyphs">ARMENIA</text>
<text x="1258.2" y="754.4"  font-size="17.8" textLength="76" lengthAdjust="spacingAndGlyphs">GEORGIA</text>
<text x="1421.2" y="811.4"  font-size="17.8" textLength="106" lengthAdjust="spacingAndGlyphs">AZERBAIJAN</text>
<text x="423.3" y="1379.7"  font-size="17.8" textLength="73" lengthAdjust="spacingAndGlyphs">ALGERIA</text>
<text x="835.0" y="1393.7"  font-size="17.8" textLength="48" lengthAdjust="spacingAndGlyphs">LIBYA</text>
<text x="1136.7" y="1352.1"  font-size="17.8" textLength="55" lengthAdjust="spacingAndGlyphs">EGYPT</text>
<text x="692.5" y="901.2" font-size="14" textLength="92" lengthAdjust="spacingAndGlyphs">BOSNIA AND</text>
<text x="696.2" y="921.2" font-size="14" textLength="104" lengthAdjust="spacingAndGlyphs">HERZEGOVINA</text>
</g>
<g font-family="Liberation Sans, sans-serif" font-style="italic" fill="#555">
<text x="31.0" y="1513.5" font-size="16" textLength="670.0" lengthAdjust="spacingAndGlyphs" xml:space="preserve">*Kosovo: This  designation is without prejudice  to  positions on status, and is in line with</text>
<text x="31.0" y="1536.5" font-size="16" textLength="638.0" lengthAdjust="spacingAndGlyphs" xml:space="preserve">UNSCR 1244/1999 and the ICJ Opinion on the Kosovo Declaration of Independence.</text>
<text x="31.0" y="1566.5" font-size="16" textLength="688.0" lengthAdjust="spacingAndGlyphs" xml:space="preserve">**Palestine:  This designation shall not be construed as recognition of a State of Palestine</text>
<text x="31.0" y="1589.0" font-size="16" textLength="665.0" lengthAdjust="spacingAndGlyphs" xml:space="preserve">and is without prejudice  to  the individual positions of the Member  States on this issue.</text>
</g><g font-family="Liberation Sans, sans-serif" fill="#4a4a4a">
<text x="820.7" y="1571.0" font-size="16.5" textLength="897.3" lengthAdjust="spacingAndGlyphs" xml:space="preserve">Copyright, European  Union, 2019. Map created  by DG ECHO Situational  Awareness  Team.  Sources: DG ECHO, GISCO.</text>
<text x="820.7" y="1593.5" font-size="16.5" textLength="932.3" lengthAdjust="spacingAndGlyphs" xml:space="preserve">The boundaries  and names  shown on this map do not imply official endorsement  or acceptance  by the European  Union.</text>
</g>
<rect x="1071" y="130" width="714" height="443" rx="8" fill="#E2E2E2"/>
<rect x="1079.5" y="168.7" width="57" height="24.30000000000001" fill="#044CAB" stroke="none" stroke-width="1.5"/>
<rect x="1079.5" y="245" width="57" height="25" fill="#C6F2D2" stroke="#b5b5b5" stroke-width="1.5"/>
<rect x="1079.5" y="308.7" width="57" height="25.0" fill="#FFE8AE" stroke="#b5b5b5" stroke-width="1.5"/>
<rect x="1079.5" y="385" width="57" height="25" fill="#FFBBE8" stroke="#b5b5b5" stroke-width="1.5"/>
<rect x="1079.5" y="462" width="57" height="25.5" fill="url(#hPB2)" stroke="#777" stroke-width="1.5"/>
<rect x="1079.5" y="525" width="57" height="25.5" fill="url(#hRB2)" stroke="#777" stroke-width="1.5"/>
<g font-family="Liberation Sans, sans-serif" fill="#1a1a1a">
<text x="1146.2" y="160.0" font-size="22.5" textLength="198.2" lengthAdjust="spacingAndGlyphs" >EU Civil Protection</text>
<text x="1146.0" y="188.0" font-size="22.5" textLength="215.0" lengthAdjust="spacingAndGlyphs" >Mechanism (UCPM)</text>
<text x="1146.0" y="215.5" font-size="22.5" textLength="161.5" lengthAdjust="spacingAndGlyphs" >Member States</text>
<text x="1146.0" y="250.5" font-size="22.5" textLength="262.8" lengthAdjust="spacingAndGlyphs" >Southern neighbourhood</text>
<text x="1146.0" y="277.5" font-size="22.5" textLength="77.0" lengthAdjust="spacingAndGlyphs" >country</text>
<text x="1146.0" y="313.8" font-size="22.5" textLength="247.8" lengthAdjust="spacingAndGlyphs" >Eastern neighbourhood</text>
<text x="1146.0" y="340.5" font-size="22.5" textLength="77.0" lengthAdjust="spacingAndGlyphs" >country</text>
<text x="1146.0" y="377.5" font-size="22.5" textLength="198.5" lengthAdjust="spacingAndGlyphs" >Instrument for Pre-</text>
<text x="1146.0" y="405.0" font-size="22.5" textLength="289.5" lengthAdjust="spacingAndGlyphs" >Accession Assistance (IPA)</text>
<text x="1146.0" y="431.8" font-size="22.5" textLength="77.0" lengthAdjust="spacingAndGlyphs" >country</text>
<text x="1146.2" y="468.8" font-size="22.5" textLength="263.8" lengthAdjust="spacingAndGlyphs" >Both UCPM Participating</text>
<text x="1146.0" y="496.2" font-size="22.5" textLength="282.8" lengthAdjust="spacingAndGlyphs" >State (PS) and IPA country</text>
<text x="1146.0" y="531.2" font-size="22.5" textLength="265.0" lengthAdjust="spacingAndGlyphs" >UCPM PS and European</text>
<text x="1146.0" y="558.8" font-size="22.5" textLength="231.0" lengthAdjust="spacingAndGlyphs" >Economic Area (EEA)</text>
<text x="1539.5" y="165.0" font-size="22.5" textLength="120.1" lengthAdjust="spacingAndGlyphs" xml:space="preserve">Peer review</text>
<text x="1539.5" y="235.8" font-size="22.5" textLength="145.7" lengthAdjust="spacingAndGlyphs" xml:space="preserve">Prevention and</text>
<text x="1539.5" y="262.0" font-size="22.5" textLength="209.4" lengthAdjust="spacingAndGlyphs" xml:space="preserve">preparedness project</text>
<text x="1539.5" y="329.4" font-size="22.5" textLength="188.5" lengthAdjust="spacingAndGlyphs" xml:space="preserve">Table Top Exercise</text>
<text x="1543.3" y="412.3" font-size="22.5" textLength="162.0" lengthAdjust="spacingAndGlyphs" xml:space="preserve">UCPM  activation</text>
<text x="1545.6" y="490.0" font-size="22.5" textLength="225.4" lengthAdjust="spacingAndGlyphs" xml:space="preserve">Copernicus Emergency</text>
<text x="1545.6" y="516.2" font-size="22.5" textLength="209.1" lengthAdjust="spacingAndGlyphs" xml:space="preserve">Management  Service</text>
<text x="1545.6" y="542.3" font-size="22.5" textLength="92.2" lengthAdjust="spacingAndGlyphs" xml:space="preserve">activation</text>
</g>
<use href="#iPeer" x="1467.6" y="142.4" width="47.2" height="40.7"/>
<use href="#iPrev0" x="1467.6" y="226.2" width="47.2" height="44.5"/>
<svg x="1467.6" y="299.5" width="47.2" height="46.5" viewBox="0 0 45 41.5" preserveAspectRatio="none"><use href="#iTTX" width="45" height="41.5"/></svg>
<rect x="1471.4" y="386.0" width="43.4" height="43.2" fill="#fff"/><use href="#iUCPM" x="1472.8" y="387.3" width="40.6" height="40.6"/>
<svg x="1471.4" y="480.0" width="43.4" height="43.0" viewBox="0 0 46.8 46.8" preserveAspectRatio="none"><use href="#iCop" width="46.8" height="46.8"/></svg>
<rect x="1785.5" y="123" width="487" height="1470.5" fill="#fff"/>
<g stroke="#1a1a1a" stroke-width="2.2" fill="none">
<line x1="1851" y1="128" x2="1851" y2="1592"/><line x1="2271" y1="128" x2="2271" y2="1592"/>
<line x1="1850" y1="129.3" x2="2272" y2="129.3"/>
<line x1="1850" y1="239" x2="2272" y2="239"/>
<line x1="1850" y1="304.6" x2="2272" y2="304.6"/>
<line x1="1850" y1="402" x2="2272" y2="402"/>
<line x1="1850" y1="467" x2="2272" y2="467"/>
<line x1="1850" y1="595" x2="2272" y2="595"/>
<line x1="1850" y1="689" x2="2272" y2="689"/>
<line x1="1850" y1="787" x2="2272" y2="787"/>
<line x1="1850" y1="847.5" x2="2272" y2="847.5"/>
<line x1="1850" y1="908" x2="2272" y2="908"/>
<line x1="1850" y1="996" x2="2272" y2="996"/>
<line x1="1850" y1="1085.6" x2="2272" y2="1085.6"/>
<line x1="1850" y1="1146.5" x2="2272" y2="1146.5"/>
<line x1="1850" y1="1236" x2="2272" y2="1236"/>
<line x1="1850" y1="1288.5" x2="2272" y2="1288.5"/>
<line x1="1850" y1="1337.5" x2="2272" y2="1337.5"/>
<line x1="1850" y1="1427.7" x2="2272" y2="1427.7"/>
<line x1="1850" y1="1480" x2="2272" y2="1480"/>
<line x1="1850" y1="1539.5" x2="2272" y2="1539.5"/>
<line x1="1850" y1="1591.6" x2="2272" y2="1591.6"/>
</g>
<rect x="1787" y="132" width="480.7" height="51" fill="#10559A"/>
<text x="2026.2" y="169" font-size="29" font-weight="bold" fill="#fff" text-anchor="middle" font-family="Liberation Sans, sans-serif" textLength="110" lengthAdjust="spacingAndGlyphs">Actions</text>
<g font-family="Liberation Sans, sans-serif" fill="#2e2e2e">
<text x="1974.9" y="217.6" font-size="22" textLength="169.4" lengthAdjust="spacingAndGlyphs" >Peer review (PR)</text>
<text x="1853.6" y="263.8" font-size="22" textLength="414.4" lengthAdjust="spacingAndGlyphs" >Increasing preparedness capacities across</text>
<text x="1920.0" y="294.3" font-size="22" textLength="279.3" lengthAdjust="spacingAndGlyphs" >the Mediterranean (IPCAM)</text>
<text x="1882.0" y="331.0" font-size="22" textLength="357.0" lengthAdjust="spacingAndGlyphs" >Disaster Risk Management Capacity</text>
<text x="1890.0" y="361.0" font-size="22" textLength="338.0" lengthAdjust="spacingAndGlyphs" >Development for Cities in Eastern</text>
<text x="1888.0" y="390.5" font-size="22" textLength="343.0" lengthAdjust="spacingAndGlyphs" >Partnership Countries(CapaCities)</text>
<text x="1879.4" y="428.7" font-size="22" textLength="358.6" lengthAdjust="spacingAndGlyphs" >Alliance For Disaster Risk Reduction</text>
<text x="2020.7" y="459.0" font-size="22" textLength="76.7" lengthAdjust="spacingAndGlyphs" >(ALTER)</text>
<text x="1907.0" y="496.6" font-size="22" textLength="306.0" lengthAdjust="spacingAndGlyphs" >Increased Resilience of Critical</text>
<text x="1853.6" y="526.4" font-size="22" textLength="413.2" lengthAdjust="spacingAndGlyphs" >Infrastructure under Natural and Human-</text>
<text x="1976.0" y="555.0" font-size="22" textLength="168.3" lengthAdjust="spacingAndGlyphs" >induced Hazards</text>
<text x="1995.5" y="583.6" font-size="22" textLength="128.2" lengthAdjust="spacingAndGlyphs" >(INFRA-NAT)</text>
<text x="1883.3" y="620.3" font-size="22" textLength="352.6" lengthAdjust="spacingAndGlyphs" >Training for trainers for emergency</text>
<text x="1871.9" y="650.7" font-size="22" textLength="377.7" lengthAdjust="spacingAndGlyphs" >medical teams and European Medical</text>
<text x="1974.9" y="679.3" font-size="22" textLength="167.1" lengthAdjust="spacingAndGlyphs" >Corps (team 2.0)</text>
<text x="1867.3" y="718.0" font-size="22" textLength="383.5" lengthAdjust="spacingAndGlyphs" >Assessment and Simulation of Present</text>
<text x="1882.2" y="748.0" font-size="22" textLength="356.0" lengthAdjust="spacingAndGlyphs" >and Future Multi-hazard Risk in the</text>
<text x="1900.5" y="777.0" font-size="22" textLength="317.1" lengthAdjust="spacingAndGlyphs" >Marrakesh-Safi Region (ARIMA)</text>
<text x="1853.6" y="810.9" font-size="22" textLength="413.2" lengthAdjust="spacingAndGlyphs" >Promoting the role of volunteers and the</text>
<text x="1858.0" y="841.4" font-size="22" textLength="403.0" lengthAdjust="spacingAndGlyphs" >population in Civil Protection (ProVoice)</text>
<text x="1875.8" y="870.4" font-size="22" textLength="368.1" lengthAdjust="spacingAndGlyphs" >Improving Disaster Risk Reduction in</text>
<text x="1872.3" y="900.2" font-size="22" textLength="376.2" lengthAdjust="spacingAndGlyphs" >Transcarpathian Region (ImProDiReT)</text>
<text x="1861.6" y="931.0" font-size="22" textLength="398.4" lengthAdjust="spacingAndGlyphs" >Western Mediterranean Region Marine</text>
<text x="1865.0" y="962.0" font-size="22" textLength="390.3" lengthAdjust="spacingAndGlyphs" >Oil &amp; HNS Pollution Cooperation (West</text>
<text x="2012.2" y="990.6" font-size="22" textLength="95.5" lengthAdjust="spacingAndGlyphs" >MOPoCo)</text>
<text x="1855.0" y="1020.8" font-size="22" textLength="410.6" lengthAdjust="spacingAndGlyphs" >Modernised Preparedness and Response</text>
<text x="1873.0" y="1051.3" font-size="22" textLength="370.4" lengthAdjust="spacingAndGlyphs" >Capacity in South Caucasus (Ready to</text>
<text x="2010.4" y="1080.0" font-size="22" textLength="97.3" lengthAdjust="spacingAndGlyphs" >Respond)</text>
<text x="1855.9" y="1110.8" font-size="22" textLength="409.7" lengthAdjust="spacingAndGlyphs" >Innovative tools for improving FLood risk</text>
<text x="1908.5" y="1140.6" font-size="22" textLength="301.1" lengthAdjust="spacingAndGlyphs" >reductiOn stRategIeS (FLORIS)</text>
<text x="1901.4" y="1169.0" font-size="22" textLength="316.0" lengthAdjust="spacingAndGlyphs" >Supportive Risk Awareness and</text>
<text x="1875.2" y="1200.0" font-size="22" textLength="369.8" lengthAdjust="spacingAndGlyphs" >Communication to Reduce impact of</text>
<text x="1942.3" y="1227.7" font-size="22" textLength="236.7" lengthAdjust="spacingAndGlyphs" >Cross-Border (SCORCH)</text>
<text x="1967.0" y="1271.3" font-size="22" textLength="185.5" lengthAdjust="spacingAndGlyphs" >Table top exercise</text>
<text x="1967.0" y="1320.0" font-size="22" textLength="185.5" lengthAdjust="spacingAndGlyphs" >Table top exercise</text>
<text x="1859.3" y="1360.0" font-size="22" textLength="400.2" lengthAdjust="spacingAndGlyphs" >Advisory Mission for Training Centre for</text>
<text x="1873.7" y="1391.0" font-size="22" textLength="375.9" lengthAdjust="spacingAndGlyphs" >Firefighters, Rescuers and Local Crisis</text>
<text x="2008.0" y="1419.3" font-size="22" textLength="104.0" lengthAdjust="spacingAndGlyphs" >Managers</text>
<text x="1898.4" y="1460.2" font-size="22" textLength="325.0" lengthAdjust="spacingAndGlyphs" >UCPM activation for Forest Fires</text>
<text x="1898.4" y="1503.0" font-size="22" textLength="325.0" lengthAdjust="spacingAndGlyphs" >UCPM activation for Earthquake</text>
<text x="1938.4" y="1531.4" font-size="22" textLength="240.6" lengthAdjust="spacingAndGlyphs" >combined with flooding</text>
<text x="1900.0" y="1573.5" font-size="22" textLength="319.5" lengthAdjust="spacingAndGlyphs" >UCPM activation for forest fires</text>
</g>
<use href="#iPeer" x="1795.0" y="189.0" width="45.5" height="43.0"/>
<use href="#iPrev" x="1793.0" y="256.5" width="51.4" height="52.7"/><text x="1805.6" y="291.5" font-size="26.3" font-weight="bold" fill="#fff" text-anchor="middle" font-family="Liberation Sans, sans-serif">A</text>
<use href="#iPrev" x="1791.0" y="350.4" width="55.0" height="52.6"/><text x="1804.5" y="385.4" font-size="26.3" font-weight="bold" fill="#fff" text-anchor="middle" font-family="Liberation Sans, sans-serif">B</text>
<use href="#iPrev" x="1793.0" y="421.4" width="53.0" height="54.9"/><text x="1806.0" y="457.9" font-size="27.5" font-weight="bold" fill="#fff" text-anchor="middle" font-family="Liberation Sans, sans-serif">C</text>
<use href="#iPrev" x="1793.0" y="527.5" width="53.0" height="52.7"/><text x="1806.0" y="562.5" font-size="26.4" font-weight="bold" fill="#fff" text-anchor="middle" font-family="Liberation Sans, sans-serif">D</text>
<use href="#iPrev" x="1793.0" y="637.4" width="54.8" height="54.3"/><text x="1806.4" y="673.5" font-size="27.2" font-weight="bold" fill="#fff" text-anchor="middle" font-family="Liberation Sans, sans-serif">E</text>
<use href="#iPrev" x="1793.0" y="728.3" width="54.8" height="53.4"/><text x="1806.4" y="763.8" font-size="26.7" font-weight="bold" fill="#fff" text-anchor="middle" font-family="Liberation Sans, sans-serif">F</text>
<use href="#iPrev" x="1791.0" y="794.2" width="53.4" height="52.2"/><text x="1804.1" y="828.9" font-size="26.1" font-weight="bold" fill="#fff" text-anchor="middle" font-family="Liberation Sans, sans-serif">G</text>
<use href="#iPrev" x="1791.0" y="857.4" width="55.0" height="52.0"/><text x="1804.5" y="892.0" font-size="26.0" font-weight="bold" fill="#fff" text-anchor="middle" font-family="Liberation Sans, sans-serif">H</text>
<use href="#iPrev" x="1791.0" y="922.0" width="55.0" height="52.6"/><text x="1804.5" y="957.0" font-size="26.3" font-weight="bold" fill="#fff" text-anchor="middle" font-family="Liberation Sans, sans-serif">I</text>
<use href="#iPrev" x="1791.0" y="1011.7" width="55.0" height="54.5"/><text x="1804.5" y="1047.9" font-size="27.2" font-weight="bold" fill="#fff" text-anchor="middle" font-family="Liberation Sans, sans-serif">J</text>
<use href="#iPrev" x="1791.0" y="1097.0" width="55.0" height="53.0"/><text x="1804.5" y="1132.2" font-size="26.5" font-weight="bold" fill="#fff" text-anchor="middle" font-family="Liberation Sans, sans-serif">K</text>
<use href="#iPrev" x="1787.0" y="1172.7" width="55.0" height="52.6"/><text x="1800.5" y="1207.7" font-size="26.3" font-weight="bold" fill="#fff" text-anchor="middle" font-family="Liberation Sans, sans-serif">L</text>
<svg x="1793.0" y="1237.3" width="51.3" height="51.2" viewBox="0 0 45 41.5" preserveAspectRatio="none" overflow="visible"><use href="#iTTX" width="45" height="41.5"/><text x="14.5" y="15.5" font-size="21" font-weight="bold" fill="#fff" text-anchor="middle" font-family="Liberation Sans, sans-serif">A</text></svg>
<svg x="1793.0" y="1292.4" width="51.3" height="46.6" viewBox="0 0 45 41.5" preserveAspectRatio="none" overflow="visible"><use href="#iTTX" width="45" height="41.5"/><text x="14.5" y="15.5" font-size="21" font-weight="bold" fill="#fff" text-anchor="middle" font-family="Liberation Sans, sans-serif">B</text></svg>
<use href="#iUCPM" x="1798.6" y="1360.0" width="42" height="42"/>
<text x="1820.4" y="1385.0" font-size="17" font-weight="bold" fill="#fff" text-anchor="middle" font-family="Liberation Sans, sans-serif">A</text>
<use href="#iUCPM" x="1799.5" y="1433.8" width="42" height="42"/>
<text x="1821.3" y="1458.8" font-size="17" font-weight="bold" fill="#fff" text-anchor="middle" font-family="Liberation Sans, sans-serif">B</text>
<use href="#iUCPM" x="1797.0" y="1488.5" width="42" height="42"/>
<text x="1818.8" y="1513.5" font-size="17" font-weight="bold" fill="#fff" text-anchor="middle" font-family="Liberation Sans, sans-serif">C</text>
<use href="#iUCPM" x="1795.6" y="1542.0" width="42" height="42"/>
<text x="1817.4" y="1567.0" font-size="17" font-weight="bold" fill="#fff" text-anchor="middle" font-family="Liberation Sans, sans-serif">D</text>
<rect x="8.7" y="121.8" width="2270.5" height="1484.7" rx="2" fill="none" stroke="#333" stroke-width="3.2"/>
</svg></body></html>
